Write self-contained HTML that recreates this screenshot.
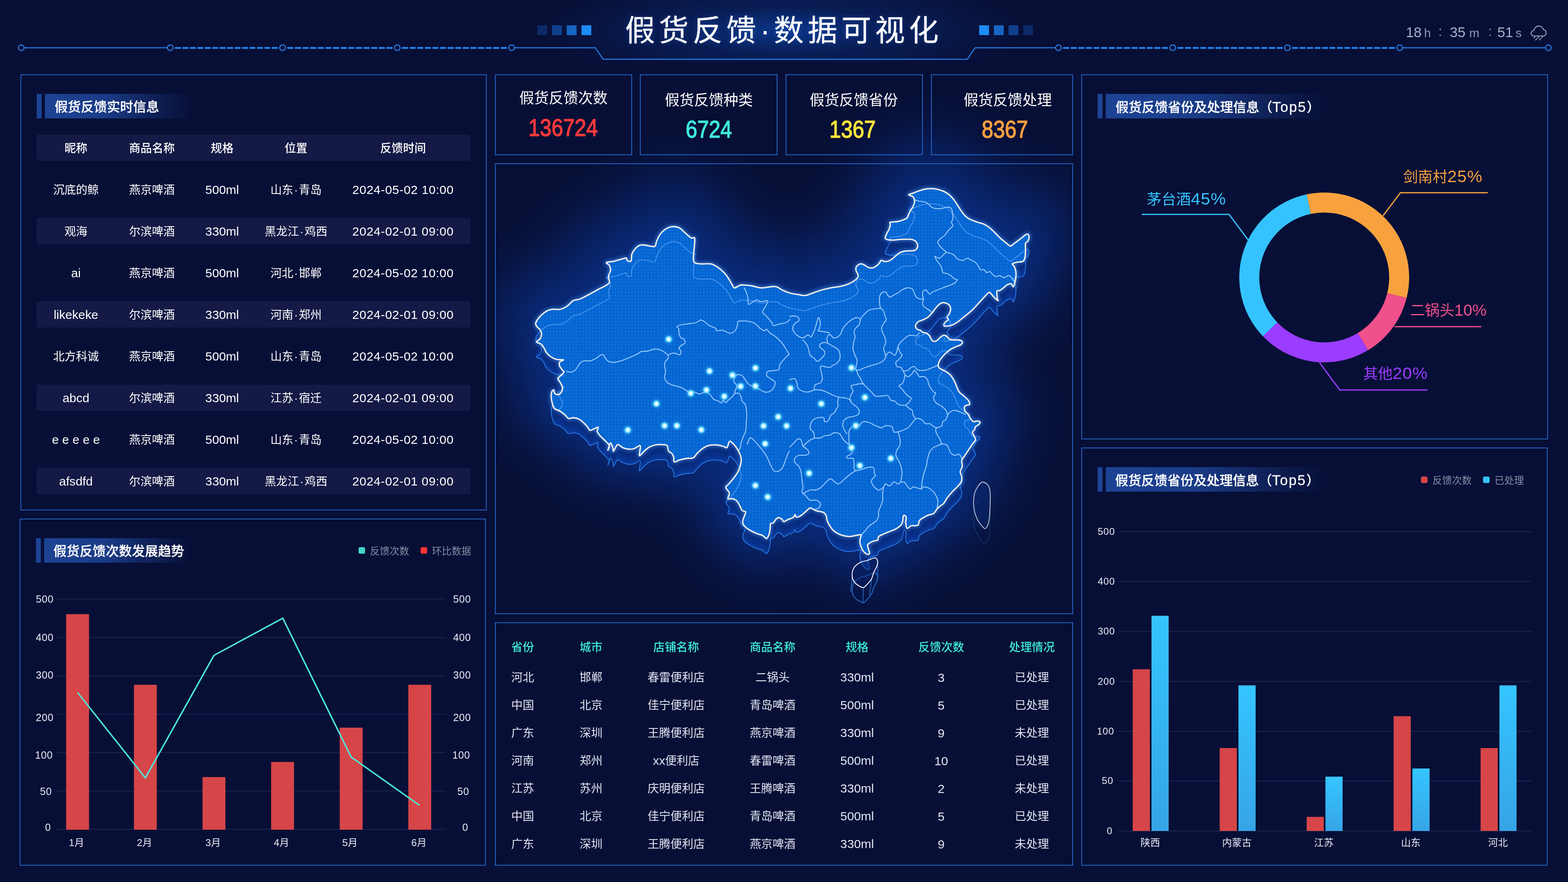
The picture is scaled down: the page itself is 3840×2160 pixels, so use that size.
<!DOCTYPE html>
<html lang="zh-CN"><head><meta charset="utf-8"><title>假货反馈·数据可视化</title>
<style>
html,body{margin:0;padding:0;background:#070f36;}
body{width:3840px;height:2160px;position:relative;overflow:hidden;font-family:"Liberation Sans","Noto Sans CJK SC",sans-serif;}
.p{position:absolute;box-sizing:border-box;border:2px solid #2463c4;}
.r{position:absolute;}
.t{position:absolute;white-space:nowrap;line-height:1;}
.tb-a{position:absolute;width:12px;height:60px;background:#1d4394;}
.tb-m{position:absolute;height:60px;background:linear-gradient(90deg,#1d4394 0%,#1a3c88 40%,rgba(20,45,110,.55) 75%,rgba(7,15,54,0) 100%);}
.row{position:absolute;left:90px;width:1062px;height:64px;background:#141a45;border-radius:4px;}
svg{position:absolute;left:0;top:0;overflow:visible;}
</style></head><body>

<div class="r" style="left:1330px;top:-60px;width:1180px;height:270px;background:radial-gradient(ellipse 50% 50% at 50% 50%,rgba(14,72,175,.68) 0%,rgba(12,52,135,.4) 42%,rgba(7,15,54,0) 100%);"></div>
<svg width="3840" height="200" viewBox="0 0 3840 200" fill="none"><path d="M60 117H409" stroke="#2b7de6" stroke-width="2.5"/><path d="M428.5 117.3H680.3" stroke="#2389f2" stroke-width="4.2" stroke-dasharray="14.55 3.7"/><path d="M703.5 117.3H961.3" stroke="#2389f2" stroke-width="4.2" stroke-dasharray="14.98 3.7"/><path d="M984.5 117.3H1241.3" stroke="#2389f2" stroke-width="4.2" stroke-dasharray="14.91 3.7"/><path d="M2603.5 117.3H2860.3" stroke="#2389f2" stroke-width="4.2" stroke-dasharray="14.91 3.7"/><path d="M2883.5 117.3H3141.3" stroke="#2389f2" stroke-width="4.2" stroke-dasharray="14.98 3.7"/><path d="M3164.5 117.3H3416.3" stroke="#2389f2" stroke-width="4.2" stroke-dasharray="14.55 3.7"/><path d="M1261 117H1458L1477 145H2369L2388 117H2584" stroke="#2b7de6" stroke-width="2.5"/><path d="M3436 117H3784" stroke="#2b7de6" stroke-width="2.5"/><circle cx="52" cy="117" r="7" stroke="#2b7de6" stroke-width="2.5"/><circle cx="417" cy="117" r="7" stroke="#2b7de6" stroke-width="2.5"/><circle cx="692" cy="117" r="7" stroke="#2b7de6" stroke-width="2.5"/><circle cx="973" cy="117" r="7" stroke="#2b7de6" stroke-width="2.5"/><circle cx="1253" cy="117" r="7" stroke="#2b7de6" stroke-width="2.5"/><circle cx="2592" cy="117" r="7" stroke="#2b7de6" stroke-width="2.5"/><circle cx="2872" cy="117" r="7" stroke="#2b7de6" stroke-width="2.5"/><circle cx="3153" cy="117" r="7" stroke="#2b7de6" stroke-width="2.5"/><circle cx="3428" cy="117" r="7" stroke="#2b7de6" stroke-width="2.5"/><circle cx="3792" cy="117" r="7" stroke="#2b7de6" stroke-width="2.5"/><rect x="1316" y="62" width="24" height="24" fill="#0c2a66"/><rect x="1352" y="62" width="24" height="24" fill="#10408c"/><rect x="1388" y="62" width="24" height="24" fill="#1666c2"/><rect x="1424" y="62" width="24" height="24" fill="#1e8cf5"/><rect x="2398" y="62" width="24" height="24" fill="#1e8cf5"/><rect x="2434" y="62" width="24" height="24" fill="#1666c2"/><rect x="2470" y="62" width="24" height="24" fill="#10408c"/><rect x="2506" y="62" width="24" height="24" fill="#0c2a66"/><g stroke="#a3abc4" stroke-width="2.1" stroke-linecap="round" stroke-linejoin="round"><path d="M3756 88C3752 88 3749.600 84.800 3749.600 81.500C3749.600 77.600 3752.600 74.600 3756.600 74.500C3757.600 68.200 3762.500 63.600 3768.500 63.600C3774 63.600 3778.500 67.200 3780 72.600C3784 73 3786.600 76.500 3786.600 80.400C3786.600 84.600 3783.500 88 3780 88Z"/><path d="M3759.200 89.800l-2.600 3.400M3768.400 89.800l-2.600 3.400M3777.600 89.800l-2.600 3.400M3763.400 94.600l-2.600 3.400M3772.600 94.600l-2.600 3.400"/></g></svg>
<div class="t" style="left:1531px;top:73.5px;font-size:73px;color:#fff;font-weight:400;transform:translate(0,-50%);letter-spacing:9.6px;text-shadow:0 0 14px rgba(40,110,230,.35);-webkit-text-stroke:0.4px #fff;">假货反馈·数据可视化</div>
<div class="t" style="left:3443px;top:62.00px;font-size:34.5px;color:#a9b1c9">18</div>
<div class="t" style="left:3487.5px;top:65.81px;font-size:30px;color:#9098b4">h</div>
<div class="t" style="left:3522.5px;top:60.37px;font-size:33px;color:#9098b4">:</div>
<div class="t" style="left:3550.5px;top:62.00px;font-size:34.5px;color:#a9b1c9">35</div>
<div class="t" style="left:3598px;top:65.81px;font-size:30px;color:#9098b4">m</div>
<div class="t" style="left:3644.8px;top:60.37px;font-size:33px;color:#9098b4">:</div>
<div class="t" style="left:3667px;top:62.00px;font-size:34.5px;color:#a9b1c9">51</div>
<div class="t" style="left:3711.5px;top:65.81px;font-size:30px;color:#9098b4">s</div>
<svg style="left:1212px;top:150px;overflow:hidden" width="1416" height="1354" viewBox="1212 150 1416 1354" fill="none"><defs>
<filter color-interpolation-filters="sRGB" id="gl1" filterUnits="userSpaceOnUse" x="812" y="-250" width="2216" height="2154"><feGaussianBlur stdDeviation="56"/></filter>
<filter color-interpolation-filters="sRGB" id="gl2" x="-20%" y="-20%" width="140%" height="140%"><feGaussianBlur stdDeviation="5"/></filter>
<filter color-interpolation-filters="sRGB" id="gl3" x="-50%" y="-50%" width="200%" height="200%"><feGaussianBlur stdDeviation="2.5"/></filter>
<filter color-interpolation-filters="sRGB" id="gl4" x="-20%" y="-20%" width="140%" height="140%"><feGaussianBlur stdDeviation="18"/></filter>
<pattern id="dots" width="8" height="8" patternUnits="userSpaceOnUse"><rect width="8" height="8" fill="#0565d1"/><rect x="2" y="2" width="3" height="4" rx="1" fill="#1474e0"/></pattern>
<linearGradient id="side" gradientUnits="userSpaceOnUse" x1="0" y1="450" x2="0" y2="1500"><stop offset="0" stop-color="#0a3592"/><stop offset="1" stop-color="#072a7c"/></linearGradient>
<path id="ol" d="M1322.5 775.0C1327.2 770.0 1334.6 764.2 1340.0 761.2C1345.4 758.3 1349.6 758.1 1355.0 757.5C1360.4 756.9 1366.7 759.0 1372.5 757.5C1378.3 756.0 1384.8 752.3 1390.0 748.8C1395.2 745.2 1398.8 739.0 1403.8 736.2C1408.8 733.5 1414.0 734.8 1420.0 732.5C1426.0 730.2 1432.5 726.5 1440.0 722.5C1447.5 718.5 1456.5 713.5 1465.0 708.8C1473.5 704.0 1487.1 699.0 1491.2 693.8C1495.4 688.5 1489.4 682.7 1490.0 677.5C1490.6 672.3 1494.6 667.1 1495.0 662.5C1495.4 657.9 1494.2 653.2 1492.5 650.0C1490.8 646.8 1483.3 644.7 1485.0 643.0C1486.7 641.3 1495.8 641.5 1502.5 640.0C1509.2 638.5 1519.8 635.1 1525.0 633.8C1530.2 632.4 1531.9 631.2 1533.8 632.0C1535.6 632.8 1534.8 637.4 1536.2 638.8C1537.7 640.1 1540.8 640.2 1542.5 640.0C1544.2 639.8 1545.4 640.4 1546.2 637.5C1547.1 634.6 1546.0 627.1 1547.5 622.5C1549.0 617.9 1552.1 613.5 1555.0 610.0C1557.9 606.5 1561.2 602.9 1565.0 601.2C1568.8 599.6 1571.2 599.6 1577.5 600.0C1583.8 600.4 1597.5 605.0 1602.5 603.8C1607.5 602.5 1605.4 597.1 1607.5 592.5C1609.6 587.9 1611.9 581.0 1615.0 576.2C1618.1 571.5 1622.1 567.1 1626.2 563.8C1630.4 560.4 1635.6 557.7 1640.0 556.2C1644.4 554.8 1648.3 554.6 1652.5 555.0C1656.7 555.4 1660.8 556.2 1665.0 558.8C1669.2 561.2 1672.9 566.0 1677.5 570.0C1682.1 574.0 1688.5 580.3 1692.5 582.5C1696.5 584.7 1699.9 579.7 1701.2 583.0C1702.6 586.3 1701.0 593.8 1700.5 602.5C1700.0 611.2 1697.7 628.1 1698.0 635.0C1698.3 641.9 1699.7 641.9 1702.5 643.8C1705.3 645.6 1708.8 645.8 1715.0 646.2C1721.2 646.7 1733.8 645.4 1740.0 646.2C1746.2 647.1 1748.3 649.0 1752.5 651.2C1756.7 653.5 1760.8 656.5 1765.0 660.0C1769.2 663.5 1773.8 667.9 1777.5 672.5C1781.2 677.1 1784.6 682.7 1787.5 687.5C1790.4 692.3 1792.9 698.3 1795.0 701.2C1797.1 704.2 1796.7 705.5 1800.0 705.0C1803.3 704.5 1808.3 698.8 1815.0 698.0C1821.7 697.2 1831.7 698.8 1840.0 700.0C1848.3 701.2 1856.7 704.7 1865.0 705.0C1873.3 705.3 1883.8 702.4 1890.0 702.0C1896.2 701.6 1898.3 701.2 1902.5 702.5C1906.7 703.8 1909.8 707.5 1915.0 710.0C1920.2 712.5 1927.5 715.6 1934.0 717.5C1940.5 719.4 1947.8 720.2 1954.0 721.2C1960.2 722.3 1966.5 724.0 1971.5 723.8C1976.5 723.5 1977.8 722.1 1984.0 720.0C1990.2 717.9 2000.7 713.8 2009.0 711.2C2017.3 708.8 2025.7 706.7 2034.0 705.0C2042.3 703.3 2051.5 702.9 2059.0 701.2C2066.5 699.6 2073.2 697.5 2079.0 695.0C2084.8 692.5 2090.2 689.2 2094.0 686.2C2097.8 683.3 2100.5 680.2 2101.5 677.5C2102.5 674.8 2101.1 672.5 2100.2 670.0C2099.4 667.5 2097.1 665.0 2096.5 662.5C2095.9 660.0 2095.7 657.3 2096.5 655.0C2097.3 652.7 2099.4 650.2 2101.5 648.8C2103.6 647.3 2106.5 646.2 2109.0 646.2C2111.5 646.2 2113.6 647.3 2116.5 648.8C2119.4 650.2 2123.2 653.8 2126.5 655.0C2129.8 656.2 2133.2 656.9 2136.5 656.2C2139.8 655.6 2143.6 653.3 2146.5 651.2C2149.4 649.2 2152.1 646.0 2154.0 643.8C2155.9 641.5 2156.1 638.1 2157.8 637.5C2159.4 636.9 2161.3 639.6 2164.0 640.0C2166.7 640.4 2170.7 640.8 2174.0 640.0C2177.3 639.2 2180.7 637.3 2184.0 635.0C2187.3 632.7 2190.7 629.0 2194.0 626.2C2197.3 623.5 2200.2 620.6 2204.0 618.8C2207.8 616.9 2211.5 615.8 2216.5 615.0C2221.5 614.2 2229.8 614.7 2234.0 614.2C2238.2 613.8 2239.4 613.8 2241.5 612.5C2243.6 611.2 2245.7 608.8 2246.5 606.2C2247.3 603.8 2247.3 600.2 2246.5 597.5C2245.7 594.8 2244.0 591.9 2241.5 590.0C2239.0 588.1 2236.9 586.9 2231.5 586.2C2226.1 585.6 2216.9 586.0 2209.0 586.2C2201.1 586.5 2190.2 588.0 2184.0 588.0C2177.8 588.0 2174.2 587.2 2171.5 586.2C2168.8 585.3 2167.8 584.8 2167.8 582.5C2167.8 580.2 2169.8 576.2 2171.5 572.5C2173.2 568.8 2176.3 563.8 2177.8 560.0C2179.2 556.2 2180.0 552.5 2180.2 550.0C2180.5 547.5 2178.4 546.0 2179.0 545.0C2179.6 544.0 2180.7 544.2 2184.0 543.8C2187.3 543.3 2194.4 543.3 2199.0 542.5C2203.6 541.7 2207.8 540.2 2211.5 538.8C2215.2 537.3 2219.2 536.0 2221.5 533.8C2223.8 531.5 2223.8 528.1 2225.2 525.0C2226.7 521.9 2228.6 517.9 2230.2 515.0C2231.9 512.1 2233.8 510.4 2235.2 507.5C2236.7 504.6 2238.3 500.6 2239.0 497.5C2239.7 494.4 2240.1 491.5 2239.5 488.8C2238.9 486.0 2237.6 483.2 2235.2 481.2C2232.9 479.3 2225.5 478.2 2225.2 477.0C2225.0 475.8 2230.0 475.2 2234.0 473.8C2238.0 472.2 2243.6 469.8 2249.0 468.0C2254.4 466.2 2260.7 464.0 2266.5 463.0C2272.3 462.0 2278.6 461.8 2284.0 462.0C2289.4 462.2 2294.0 463.2 2299.0 464.5C2304.0 465.8 2309.4 467.6 2314.0 470.0C2318.6 472.4 2322.8 475.4 2326.5 478.8C2330.2 482.1 2333.2 485.6 2336.5 490.0C2339.8 494.4 2343.2 500.0 2346.5 505.0C2349.8 510.0 2353.2 515.6 2356.5 520.0C2359.8 524.4 2362.8 528.1 2366.5 531.2C2370.2 534.4 2374.0 536.5 2379.0 538.8C2384.0 541.0 2391.5 543.3 2396.5 545.0C2401.5 546.7 2404.8 546.9 2409.0 548.8C2413.2 550.6 2417.3 553.1 2421.5 556.2C2425.7 559.4 2429.4 563.1 2434.0 567.5C2438.6 571.9 2444.0 577.9 2449.0 582.5C2454.0 587.1 2459.8 591.7 2464.0 595.0C2468.2 598.3 2470.7 602.3 2474.0 602.5C2477.3 602.7 2479.8 599.2 2484.0 596.2C2488.2 593.3 2494.4 588.5 2499.0 585.0C2503.6 581.5 2508.4 576.9 2511.5 575.0C2514.6 573.1 2516.3 572.9 2517.8 573.8C2519.2 574.6 2520.2 577.3 2520.2 580.0C2520.2 582.7 2519.2 587.3 2517.8 590.0C2516.3 592.7 2512.5 592.5 2511.5 596.2C2510.5 600.0 2511.7 606.9 2511.5 612.5C2511.3 618.1 2511.3 625.4 2510.2 630.0C2509.2 634.6 2508.4 638.0 2505.2 640.0C2502.1 642.0 2495.9 641.0 2491.5 642.0C2487.1 643.0 2480.2 644.5 2479.0 646.2C2477.8 648.0 2482.5 649.4 2484.0 652.5C2485.5 655.6 2487.1 660.4 2487.8 665.0C2488.4 669.6 2488.2 675.4 2487.8 680.0C2487.3 684.6 2486.3 688.8 2485.2 692.5C2484.2 696.2 2483.0 702.1 2481.5 702.5C2480.0 702.9 2479.0 695.8 2476.5 695.0C2474.0 694.2 2469.4 696.0 2466.5 697.5C2463.6 699.0 2461.9 701.5 2459.0 703.8C2456.1 706.0 2451.9 709.8 2449.0 711.2C2446.1 712.7 2442.8 710.6 2441.5 712.5C2440.2 714.4 2441.3 719.2 2441.5 722.5C2441.7 725.8 2442.3 730.2 2442.8 732.5C2443.2 734.8 2445.5 737.1 2444.0 736.2C2442.5 735.4 2436.9 730.4 2434.0 727.5C2431.1 724.6 2428.6 720.6 2426.5 718.8C2424.4 716.9 2424.4 714.6 2421.5 716.2C2418.6 717.9 2413.2 724.4 2409.0 728.8C2404.8 733.1 2400.7 737.9 2396.5 742.5C2392.3 747.1 2388.2 752.1 2384.0 756.2C2379.8 760.4 2375.7 764.0 2371.5 767.5C2367.3 771.0 2363.2 774.2 2359.0 777.5C2354.8 780.8 2350.7 784.6 2346.5 787.5C2342.3 790.4 2337.8 793.2 2334.0 795.0C2330.2 796.8 2327.3 797.4 2324.0 798.0C2320.7 798.6 2316.1 799.2 2314.0 798.8C2311.9 798.2 2311.1 796.9 2311.5 795.0C2311.9 793.1 2314.6 789.6 2316.5 787.5C2318.4 785.4 2322.3 784.4 2322.8 782.5C2323.2 780.6 2318.8 778.3 2319.0 776.2C2319.2 774.2 2322.5 772.7 2324.0 770.0C2325.5 767.3 2327.3 763.3 2327.8 760.0C2328.2 756.7 2327.8 752.7 2326.5 750.0C2325.2 747.3 2323.2 745.2 2320.2 743.8C2317.3 742.3 2312.5 740.8 2309.0 741.2C2305.5 741.7 2302.3 743.5 2299.0 746.2C2295.7 749.0 2291.9 754.0 2289.0 757.5C2286.1 761.0 2284.4 764.2 2281.5 767.5C2278.6 770.8 2275.2 774.8 2271.5 777.5C2267.8 780.2 2262.8 782.1 2259.0 783.8C2255.2 785.4 2251.7 785.6 2249.0 787.5C2246.3 789.4 2243.8 792.5 2242.8 795.0C2241.7 797.5 2241.9 800.4 2242.8 802.5C2243.6 804.6 2245.9 806.5 2247.8 807.5C2249.6 808.5 2252.1 807.7 2254.0 808.8C2255.9 809.8 2256.5 812.5 2259.0 813.8C2261.5 815.0 2266.1 814.8 2269.0 816.2C2271.9 817.7 2274.4 819.8 2276.5 822.5C2278.6 825.2 2279.4 830.2 2281.5 832.5C2283.6 834.8 2286.5 836.2 2289.0 836.2C2291.5 836.2 2294.0 834.4 2296.5 832.5C2299.0 830.6 2301.5 826.9 2304.0 825.0C2306.5 823.1 2309.0 821.5 2311.5 821.2C2314.0 821.0 2316.9 822.3 2319.0 823.8C2321.1 825.2 2321.5 828.5 2324.0 830.0C2326.5 831.5 2330.2 832.1 2334.0 832.5C2337.8 832.9 2343.0 832.1 2346.5 832.5C2350.0 832.9 2353.6 833.8 2355.2 835.0C2356.9 836.2 2357.1 838.3 2356.5 840.0C2355.9 841.7 2354.0 843.5 2351.5 845.0C2349.0 846.5 2345.2 847.1 2341.5 848.8C2337.8 850.4 2332.8 852.7 2329.0 855.0C2325.2 857.3 2322.3 859.6 2319.0 862.5C2315.7 865.4 2311.9 869.2 2309.0 872.5C2306.1 875.8 2303.4 879.2 2301.5 882.5C2299.6 885.8 2298.2 889.6 2297.8 892.5C2297.3 895.4 2297.5 897.9 2299.0 900.0C2300.5 902.1 2303.6 903.3 2306.5 905.0C2309.4 906.7 2313.2 907.9 2316.5 910.0C2319.8 912.1 2323.6 914.6 2326.5 917.5C2329.4 920.4 2331.7 923.8 2334.0 927.5C2336.3 931.2 2338.6 936.2 2340.2 940.0C2341.9 943.8 2342.5 946.7 2344.0 950.0C2345.5 953.3 2346.5 956.9 2349.0 960.0C2351.5 963.1 2355.7 965.8 2359.0 968.8C2362.3 971.7 2366.5 974.8 2369.0 977.5C2371.5 980.2 2373.2 982.7 2374.0 985.0C2374.8 987.3 2375.2 990.0 2374.0 991.2C2372.8 992.5 2368.6 991.5 2366.5 992.5C2364.4 993.5 2361.9 995.0 2361.5 997.5C2361.1 1000.0 2362.3 1004.6 2364.0 1007.5C2365.7 1010.4 2369.4 1012.1 2371.5 1015.0C2373.6 1017.9 2374.4 1022.1 2376.5 1025.0C2378.6 1027.9 2381.1 1031.5 2384.0 1032.5C2386.9 1033.5 2391.3 1031.0 2394.0 1031.2C2396.7 1031.5 2399.8 1032.3 2400.2 1033.8C2400.7 1035.2 2398.4 1038.1 2396.5 1040.0C2394.6 1041.9 2390.7 1042.9 2389.0 1045.0C2387.3 1047.1 2387.8 1050.2 2386.5 1052.5C2385.2 1054.8 2381.5 1055.8 2381.5 1058.8C2381.5 1061.7 2385.2 1066.9 2386.5 1070.0C2387.8 1073.1 2389.8 1074.6 2389.0 1077.5C2388.2 1080.4 2384.4 1083.3 2381.5 1087.5C2378.6 1091.7 2374.8 1097.5 2371.5 1102.5C2368.2 1107.5 2364.2 1113.3 2361.5 1117.5C2358.8 1121.7 2356.1 1123.3 2355.2 1127.5C2354.4 1131.7 2357.1 1137.9 2356.5 1142.5C2355.9 1147.1 2351.7 1150.8 2351.5 1155.0C2351.3 1159.2 2354.8 1163.3 2355.2 1167.5C2355.7 1171.7 2355.9 1175.8 2354.0 1180.0C2352.1 1184.2 2347.8 1188.3 2344.0 1192.5C2340.2 1196.7 2335.7 1200.4 2331.5 1205.0C2327.3 1209.6 2322.3 1215.4 2319.0 1220.0C2315.7 1224.6 2314.4 1229.2 2311.5 1232.5C2308.6 1235.8 2304.4 1237.5 2301.5 1240.0C2298.6 1242.5 2296.5 1244.6 2294.0 1247.5C2291.5 1250.4 2289.8 1255.2 2286.5 1257.5C2283.2 1259.8 2278.2 1259.6 2274.0 1261.2C2269.8 1262.9 2265.2 1265.2 2261.5 1267.5C2257.8 1269.8 2253.6 1272.1 2251.5 1275.0C2249.4 1277.9 2250.7 1282.9 2249.0 1285.0C2247.3 1287.1 2244.4 1287.1 2241.5 1287.5C2238.6 1287.9 2234.8 1286.5 2231.5 1287.5C2228.2 1288.5 2223.7 1295.0 2221.5 1293.8C2219.3 1292.5 2218.6 1284.4 2218.2 1280.0C2217.9 1275.6 2219.9 1270.4 2219.5 1267.5C2219.1 1264.6 2217.0 1263.1 2215.8 1262.5C2214.5 1261.9 2212.8 1261.7 2212.0 1263.8C2211.2 1265.8 2211.6 1271.5 2210.8 1275.0C2209.9 1278.5 2209.7 1281.7 2207.0 1285.0C2204.3 1288.3 2199.1 1292.3 2194.5 1295.0C2189.9 1297.7 2184.5 1299.2 2179.5 1301.2C2174.5 1303.3 2169.1 1305.4 2164.5 1307.5C2159.9 1309.6 2154.5 1311.2 2152.0 1313.8C2149.5 1316.2 2151.6 1320.6 2149.5 1322.5C2147.4 1324.4 2142.8 1323.8 2139.5 1325.0C2136.2 1326.2 2132.0 1328.3 2129.5 1330.0C2127.0 1331.7 2124.9 1332.5 2124.5 1335.0C2124.1 1337.5 2126.2 1341.7 2127.0 1345.0C2127.8 1348.3 2129.9 1352.9 2129.5 1355.0C2129.1 1357.1 2127.0 1358.3 2124.5 1357.5C2122.0 1356.7 2117.2 1353.3 2114.5 1350.0C2111.8 1346.7 2109.7 1341.7 2108.2 1337.5C2106.8 1333.3 2105.8 1329.6 2105.8 1325.0C2105.8 1320.4 2109.7 1312.3 2108.2 1310.0C2106.8 1307.7 2101.8 1310.6 2097.0 1311.2C2092.2 1311.9 2085.8 1314.0 2079.5 1313.8C2073.2 1313.5 2065.8 1312.3 2059.5 1310.0C2053.2 1307.7 2046.6 1303.8 2042.0 1300.0C2037.4 1296.2 2034.7 1291.7 2032.0 1287.5C2029.3 1283.3 2027.2 1279.2 2025.8 1275.0C2024.3 1270.8 2024.7 1265.8 2023.2 1262.5C2021.8 1259.2 2019.7 1256.7 2017.0 1255.0C2014.3 1253.3 2010.3 1253.3 2007.0 1252.5C2003.7 1251.7 2000.1 1251.2 1997.0 1250.0C1993.9 1248.8 1990.8 1245.8 1988.2 1245.0C1985.8 1244.2 1984.7 1243.5 1982.0 1245.0C1979.3 1246.5 1975.8 1250.6 1972.0 1253.8C1968.2 1256.9 1963.2 1261.7 1959.5 1263.8C1955.8 1265.8 1951.6 1266.9 1949.5 1266.2C1947.4 1265.6 1948.2 1259.8 1947.0 1260.0C1945.8 1260.2 1944.9 1265.4 1942.0 1267.5C1939.1 1269.6 1933.2 1270.8 1929.5 1272.5C1925.8 1274.2 1921.8 1277.5 1919.5 1277.5C1917.2 1277.5 1917.8 1274.2 1915.8 1272.5C1913.7 1270.8 1909.7 1267.5 1907.0 1267.5C1904.3 1267.5 1901.6 1270.4 1899.5 1272.5C1897.4 1274.6 1896.6 1278.3 1894.5 1280.0C1892.4 1281.7 1888.4 1280.4 1887.0 1282.5C1885.6 1284.6 1886.8 1288.3 1886.2 1292.5C1885.7 1296.7 1885.2 1303.1 1883.8 1307.5C1882.3 1311.9 1880.2 1318.1 1877.5 1318.8C1874.8 1319.4 1871.7 1313.3 1867.5 1311.2C1863.3 1309.2 1857.9 1308.5 1852.5 1306.2C1847.1 1304.0 1840.0 1300.6 1835.0 1297.5C1830.0 1294.4 1825.2 1290.8 1822.5 1287.5C1819.8 1284.2 1818.8 1281.2 1818.8 1277.5C1818.8 1273.8 1821.2 1269.0 1822.5 1265.0C1823.8 1261.0 1827.1 1256.2 1826.2 1253.8C1825.4 1251.2 1820.2 1253.1 1817.5 1250.0C1814.8 1246.9 1812.5 1239.2 1810.0 1235.0C1807.5 1230.8 1805.4 1227.3 1802.5 1225.0C1799.6 1222.7 1795.8 1221.9 1792.5 1221.2C1789.2 1220.6 1783.5 1223.5 1782.5 1221.2C1781.5 1219.0 1787.1 1212.1 1786.2 1207.5C1785.4 1202.9 1777.7 1197.5 1777.5 1193.8C1777.3 1190.0 1781.7 1189.0 1785.0 1185.0C1788.3 1181.0 1793.8 1175.0 1797.5 1170.0C1801.2 1165.0 1804.8 1160.4 1807.5 1155.0C1810.2 1149.6 1812.5 1142.9 1813.8 1137.5C1815.0 1132.1 1815.6 1127.5 1815.0 1122.5C1814.4 1117.5 1812.1 1112.1 1810.0 1107.5C1807.9 1102.9 1805.4 1099.0 1802.5 1095.0C1799.6 1091.0 1795.2 1086.0 1792.5 1083.8C1789.8 1081.5 1788.3 1079.2 1786.2 1081.2C1784.2 1083.3 1782.7 1094.4 1780.0 1096.2C1777.3 1098.1 1774.6 1093.6 1770.0 1092.5C1765.4 1091.4 1758.3 1089.7 1752.5 1089.5C1746.7 1089.3 1740.4 1089.7 1735.0 1091.2C1729.6 1092.8 1724.6 1095.6 1720.0 1098.8C1715.4 1101.9 1711.2 1106.2 1707.5 1110.0C1703.8 1113.8 1701.7 1119.2 1697.5 1121.2C1693.3 1123.3 1687.9 1121.7 1682.5 1122.5C1677.1 1123.3 1670.2 1124.8 1665.0 1126.2C1659.8 1127.7 1653.8 1132.3 1651.2 1131.2C1648.8 1130.2 1651.0 1123.5 1650.0 1120.0C1649.0 1116.5 1647.1 1112.5 1645.0 1110.0C1642.9 1107.5 1639.4 1108.1 1637.5 1105.0C1635.6 1101.9 1636.2 1094.0 1633.8 1091.2C1631.2 1088.5 1627.3 1089.0 1622.5 1088.8C1617.7 1088.5 1610.4 1088.5 1605.0 1089.5C1599.6 1090.5 1594.6 1092.4 1590.0 1095.0C1585.4 1097.6 1581.5 1101.5 1577.5 1105.0C1573.5 1108.5 1568.0 1116.2 1566.2 1116.2C1564.5 1116.2 1566.8 1109.2 1567.0 1105.0C1567.2 1100.8 1569.9 1092.3 1567.5 1091.2C1565.1 1090.2 1557.1 1097.3 1552.5 1098.8C1547.9 1100.2 1544.6 1100.4 1540.0 1100.0C1535.4 1099.6 1529.6 1098.1 1525.0 1096.2C1520.4 1094.4 1516.2 1087.3 1512.5 1088.8C1508.8 1090.2 1504.4 1103.5 1502.5 1105.0C1500.6 1106.5 1502.5 1100.8 1501.2 1097.5C1500.0 1094.2 1497.1 1084.2 1495.0 1085.0C1492.9 1085.8 1489.2 1101.5 1488.8 1102.5C1488.3 1103.5 1492.7 1094.2 1492.5 1091.2C1492.3 1088.3 1490.0 1087.7 1487.5 1085.0C1485.0 1082.3 1480.6 1078.1 1477.5 1075.0C1474.4 1071.9 1471.2 1069.4 1468.8 1066.2C1466.2 1063.1 1463.1 1059.6 1462.5 1056.2C1461.9 1052.9 1466.2 1047.3 1465.0 1046.2C1463.8 1045.2 1458.3 1048.8 1455.0 1050.0C1451.7 1051.2 1447.9 1054.8 1445.0 1053.8C1442.1 1052.7 1440.4 1047.1 1437.5 1043.8C1434.6 1040.4 1430.8 1036.7 1427.5 1033.8C1424.2 1030.8 1421.2 1028.0 1417.5 1026.2C1413.8 1024.5 1409.2 1023.2 1405.0 1023.0C1400.8 1022.8 1395.8 1025.9 1392.5 1025.0C1389.2 1024.1 1388.3 1020.4 1385.0 1017.5C1381.7 1014.6 1377.1 1010.4 1372.5 1007.5C1367.9 1004.6 1360.8 1003.3 1357.5 1000.0C1354.2 996.7 1353.8 992.1 1352.5 987.5C1351.2 982.9 1350.2 977.1 1350.0 972.5C1349.8 967.9 1350.2 962.9 1351.2 960.0C1352.3 957.1 1355.0 954.4 1356.2 955.0C1357.5 955.6 1356.9 961.9 1358.8 963.8C1360.6 965.6 1364.8 966.9 1367.5 966.2C1370.2 965.6 1373.3 962.7 1375.0 960.0C1376.7 957.3 1377.9 953.8 1377.5 950.0C1377.1 946.2 1374.4 941.2 1372.5 937.5C1370.6 933.8 1366.2 930.4 1366.2 927.5C1366.2 924.6 1370.0 922.7 1372.5 920.0C1375.0 917.3 1380.6 913.8 1381.2 911.2C1381.9 908.8 1378.1 907.7 1376.2 905.0C1374.4 902.3 1370.8 898.1 1370.0 895.0C1369.2 891.9 1369.6 888.5 1371.2 886.2C1372.9 884.0 1381.5 882.3 1380.0 881.2C1378.5 880.2 1367.9 881.5 1362.5 880.0C1357.1 878.5 1351.7 875.4 1347.5 872.5C1343.3 869.6 1340.0 865.8 1337.5 862.5C1335.0 859.2 1334.6 855.8 1332.5 852.5C1330.4 849.2 1328.1 845.0 1325.0 842.5C1321.9 840.0 1314.2 839.6 1313.8 837.5C1313.3 835.4 1320.4 833.3 1322.5 830.0C1324.6 826.7 1326.2 821.2 1326.2 817.5C1326.2 813.8 1324.4 810.4 1322.5 807.5C1320.6 804.6 1316.8 802.7 1315.0 800.0C1313.2 797.3 1310.8 795.4 1312.0 791.2C1313.2 787.1 1317.8 780.0 1322.5 775.0Z"/>
<clipPath id="olc"><use href="#ol"/></clipPath>
</defs><g filter="url(#gl1)"><rect x="812" y="-250" width="2216" height="2154" fill="#070f36"/><use href="#ol" transform="translate(0 -22)" fill="#082264" stroke="#082264" stroke-width="220" stroke-linejoin="round"/><use href="#ol" transform="translate(0 4)" fill="#0a2e84" stroke="#0a2e84" stroke-width="34" stroke-linejoin="round"/></g><use href="#ol" transform="translate(0 37)" fill="#0b3a9c" stroke="#0b3a9c" stroke-width="1.5"/><use href="#ol" transform="translate(0 35)" fill="#0b3899" stroke="#0b3899" stroke-width="1.5"/><use href="#ol" transform="translate(0 33)" fill="#0a3796" stroke="#0a3796" stroke-width="1.5"/><use href="#ol" transform="translate(0 31)" fill="#0a3693" stroke="#0a3693" stroke-width="1.5"/><use href="#ol" transform="translate(0 29)" fill="#0a3490" stroke="#0a3490" stroke-width="1.5"/><use href="#ol" transform="translate(0 27)" fill="#0a338d" stroke="#0a338d" stroke-width="1.5"/><use href="#ol" transform="translate(0 25)" fill="#0a328a" stroke="#0a328a" stroke-width="1.5"/><use href="#ol" transform="translate(0 23)" fill="#093088" stroke="#093088" stroke-width="1.5"/><use href="#ol" transform="translate(0 21)" fill="#092f85" stroke="#092f85" stroke-width="1.5"/><use href="#ol" transform="translate(0 19)" fill="#092e83" stroke="#092e83" stroke-width="1.5"/><use href="#ol" transform="translate(0 17)" fill="#092d81" stroke="#092d81" stroke-width="1.5"/><use href="#ol" transform="translate(0 15)" fill="#092c7f" stroke="#092c7f" stroke-width="1.5"/><use href="#ol" transform="translate(0 13)" fill="#092b7d" stroke="#092b7d" stroke-width="1.5"/><use href="#ol" transform="translate(0 11)" fill="#082b7b" stroke="#082b7b" stroke-width="1.5"/><use href="#ol" transform="translate(0 9)" fill="#082a7a" stroke="#082a7a" stroke-width="1.5"/><use href="#ol" transform="translate(0 7)" fill="#082979" stroke="#082979" stroke-width="1.5"/><use href="#ol" transform="translate(0 5)" fill="#082978" stroke="#082978" stroke-width="1.5"/><use href="#ol" transform="translate(0 3)" fill="#082877" stroke="#082877" stroke-width="1.5"/><use href="#ol" transform="translate(0 1)" fill="#082876" stroke="#082876" stroke-width="1.5"/><use href="#ol" transform="translate(0 37)" stroke="#2e7fe8" stroke-width="2" opacity="0.9"/><use href="#ol" stroke="#4b9cff" stroke-width="7" filter="url(#gl2)" opacity="0.7"/><use href="#ol" fill="url(#dots)"/><g clip-path="url(#olc)"><use href="#ol" transform="translate(0 37)" stroke="#62a8f6" stroke-width="2.5" opacity="0.6"/><path d="M1822.5 705.0C1823.3 706.7 1826.0 711.2 1827.5 715.0C1829.0 718.8 1830.3 722.5 1831.2 727.5C1832.2 732.5 1831.1 742.9 1833.0 745.0C1834.9 747.1 1839.2 741.7 1842.5 740.0C1845.8 738.3 1848.8 735.2 1852.5 735.0C1856.2 734.8 1860.4 738.5 1865.0 738.8C1869.6 739.0 1878.3 734.4 1880.0 736.2C1881.7 738.1 1877.1 745.4 1875.0 750.0C1872.9 754.6 1867.1 759.6 1867.5 763.8C1867.9 767.9 1873.8 770.6 1877.5 775.0C1881.2 779.4 1887.1 786.2 1890.0 790.0C1892.9 793.8 1892.1 796.9 1895.0 797.5C1897.9 798.1 1902.5 795.0 1907.5 793.8C1912.5 792.5 1920.6 791.9 1925.0 790.0C1929.4 788.1 1932.5 783.8 1934.0 782.5" stroke="#9fd0ff" stroke-width="2.3" stroke-linejoin="round" stroke-linecap="round" opacity="0.95"/><path d="M1387.5 910.0C1389.6 910.2 1396.2 912.1 1400.0 911.2C1403.8 910.4 1406.7 908.5 1410.0 905.0C1413.3 901.5 1416.7 893.5 1420.0 890.0C1423.3 886.5 1425.8 884.8 1430.0 883.8C1434.2 882.7 1440.0 884.8 1445.0 883.8C1450.0 882.7 1455.8 879.8 1460.0 877.5C1464.2 875.2 1467.1 871.5 1470.0 870.0C1472.9 868.5 1475.4 867.5 1477.5 868.8C1479.6 870.0 1480.4 874.8 1482.5 877.5C1484.6 880.2 1486.7 883.3 1490.0 885.0C1493.3 886.7 1497.5 887.7 1502.5 887.5C1507.5 887.3 1513.8 885.6 1520.0 883.8C1526.2 881.9 1533.3 879.0 1540.0 876.2C1546.7 873.5 1555.0 870.0 1560.0 867.5C1565.0 865.0 1565.8 862.5 1570.0 861.2C1574.2 860.0 1579.6 861.0 1585.0 860.0C1590.4 859.0 1597.5 855.6 1602.5 855.0C1607.5 854.4 1610.8 855.0 1615.0 856.2C1619.2 857.5 1624.0 860.2 1627.5 862.5C1631.0 864.8 1634.8 868.8 1636.2 870.0" stroke="#9fd0ff" stroke-width="2.3" stroke-linejoin="round" stroke-linecap="round" opacity="0.95"/><path d="M1636.2 870.0C1636.2 871.2 1637.3 875.0 1636.2 877.5C1635.2 880.0 1631.5 882.1 1630.0 885.0C1628.5 887.9 1627.5 890.8 1627.5 895.0C1627.5 899.2 1630.0 905.4 1630.0 910.0C1630.0 914.6 1627.1 918.3 1627.5 922.5C1627.9 926.7 1629.6 931.7 1632.5 935.0C1635.4 938.3 1640.4 940.6 1645.0 942.5C1649.6 944.4 1655.0 944.6 1660.0 946.2C1665.0 947.9 1670.8 950.4 1675.0 952.5C1679.2 954.6 1680.8 957.5 1685.0 958.8C1689.2 960.0 1695.4 959.0 1700.0 960.0C1704.6 961.0 1709.2 964.6 1712.5 965.0C1715.8 965.4 1717.1 963.3 1720.0 962.5C1722.9 961.7 1726.7 959.2 1730.0 960.0C1733.3 960.8 1737.1 964.6 1740.0 967.5C1742.9 970.4 1744.6 975.2 1747.5 977.5C1750.4 979.8 1754.2 979.8 1757.5 981.2C1760.8 982.7 1765.2 986.5 1767.5 986.2C1769.8 986.0 1769.6 980.0 1771.2 980.0C1772.9 980.0 1775.4 986.2 1777.5 986.2C1779.6 986.2 1781.2 982.3 1783.8 980.0C1786.2 977.7 1789.8 975.2 1792.5 972.5C1795.2 969.8 1797.1 965.2 1800.0 963.8C1802.9 962.3 1807.5 962.3 1810.0 963.8C1812.5 965.2 1813.8 969.4 1815.0 972.5C1816.2 975.6 1815.8 979.6 1817.5 982.5C1819.2 985.4 1823.3 987.1 1825.0 990.0C1826.7 992.9 1826.9 995.4 1827.5 1000.0C1828.1 1004.6 1828.8 1011.7 1828.8 1017.5C1828.8 1023.3 1827.9 1028.8 1827.5 1035.0C1827.1 1041.2 1827.5 1049.2 1826.2 1055.0C1825.0 1060.8 1821.9 1065.0 1820.0 1070.0C1818.1 1075.0 1816.2 1080.4 1815.0 1085.0C1813.8 1089.6 1813.8 1094.2 1812.5 1097.5C1811.2 1100.8 1808.3 1103.8 1807.5 1105.0" stroke="#9fd0ff" stroke-width="2.3" stroke-linejoin="round" stroke-linecap="round" opacity="0.95"/><path d="M1636.2 870.0C1637.3 869.4 1639.8 867.1 1642.5 866.2C1645.2 865.4 1648.8 864.6 1652.5 865.0C1656.2 865.4 1662.5 869.6 1665.0 868.8C1667.5 867.9 1667.9 862.7 1667.5 860.0C1667.1 857.3 1662.1 855.0 1662.5 852.5C1662.9 850.0 1667.5 847.1 1670.0 845.0C1672.5 842.9 1676.7 842.5 1677.5 840.0C1678.3 837.5 1676.7 832.1 1675.0 830.0C1673.3 827.9 1669.6 830.0 1667.5 827.5C1665.4 825.0 1663.3 818.8 1662.5 815.0C1661.7 811.2 1663.3 807.5 1662.5 805.0C1661.7 802.5 1656.2 801.7 1657.5 800.0C1658.8 798.3 1664.6 796.2 1670.0 795.0C1675.4 793.8 1684.2 793.3 1690.0 792.5C1695.8 791.7 1700.8 791.5 1705.0 790.0C1709.2 788.5 1711.7 784.2 1715.0 783.8C1718.3 783.3 1721.2 785.2 1725.0 787.5C1728.8 789.8 1732.9 794.8 1737.5 797.5C1742.1 800.2 1749.6 801.7 1752.5 803.8C1755.4 805.8 1752.1 809.2 1755.0 810.0C1757.9 810.8 1764.6 807.7 1770.0 808.8C1775.4 809.8 1782.5 816.0 1787.5 816.2C1792.5 816.5 1797.1 812.7 1800.0 810.0C1802.9 807.3 1803.8 803.8 1805.0 800.0C1806.2 796.2 1805.8 789.8 1807.5 787.5C1809.2 785.2 1811.7 786.5 1815.0 786.2C1818.3 786.0 1822.1 785.4 1827.5 786.2C1832.9 787.1 1841.7 788.1 1847.5 791.2C1853.3 794.4 1858.3 801.9 1862.5 805.0C1866.7 808.1 1870.0 809.8 1872.5 810.0C1875.0 810.2 1875.4 805.4 1877.5 806.2C1879.6 807.1 1881.2 811.9 1885.0 815.0C1888.8 818.1 1895.0 820.8 1900.0 825.0C1905.0 829.2 1910.8 835.0 1915.0 840.0C1919.2 845.0 1922.1 850.4 1925.0 855.0C1927.9 859.6 1931.2 865.4 1932.5 867.5" stroke="#9fd0ff" stroke-width="2.3" stroke-linejoin="round" stroke-linecap="round" opacity="0.95"/><path d="M1932.5 867.5C1930.4 869.6 1923.8 875.8 1920.0 880.0C1916.2 884.2 1912.1 888.3 1910.0 892.5C1907.9 896.7 1910.0 902.5 1907.5 905.0C1905.0 907.5 1899.6 906.7 1895.0 907.5C1890.4 908.3 1882.9 907.9 1880.0 910.0C1877.1 912.1 1876.2 917.1 1877.5 920.0C1878.8 922.9 1884.2 925.0 1887.5 927.5C1890.8 930.0 1895.8 932.5 1897.5 935.0C1899.2 937.5 1898.3 939.6 1897.5 942.5C1896.7 945.4 1894.6 949.8 1892.5 952.5C1890.4 955.2 1888.3 957.5 1885.0 958.8C1881.7 960.0 1876.7 960.8 1872.5 960.0C1868.3 959.2 1864.6 955.8 1860.0 953.8C1855.4 951.7 1849.6 949.8 1845.0 947.5C1840.4 945.2 1835.8 942.9 1832.5 940.0C1829.2 937.1 1827.5 933.3 1825.0 930.0C1822.5 926.7 1820.4 922.1 1817.5 920.0C1814.6 917.9 1810.4 917.1 1807.5 917.5C1804.6 917.9 1801.7 919.6 1800.0 922.5C1798.3 925.4 1796.7 931.2 1797.5 935.0C1798.3 938.8 1804.6 941.2 1805.0 945.0C1805.4 948.8 1800.8 954.4 1800.0 957.5C1799.2 960.6 1800.0 962.7 1800.0 963.8" stroke="#9fd0ff" stroke-width="2.3" stroke-linejoin="round" stroke-linecap="round" opacity="0.95"/><path d="M1830.0 1087.5C1830.8 1085.4 1833.3 1077.5 1835.0 1075.0C1836.7 1072.5 1837.1 1070.8 1840.0 1072.5C1842.9 1074.2 1848.3 1080.4 1852.5 1085.0C1856.7 1089.6 1860.8 1094.6 1865.0 1100.0C1869.2 1105.4 1873.8 1110.8 1877.5 1117.5C1881.2 1124.2 1884.6 1134.2 1887.5 1140.0C1890.4 1145.8 1892.5 1150.0 1895.0 1152.5C1897.5 1155.0 1899.2 1155.8 1902.5 1155.0C1905.8 1154.2 1911.7 1151.7 1915.0 1147.5C1918.3 1143.3 1920.0 1136.2 1922.5 1130.0C1925.0 1123.8 1928.1 1114.2 1930.0 1110.0C1931.9 1105.8 1933.3 1105.8 1934.0 1105.0" stroke="#9fd0ff" stroke-width="2.3" stroke-linejoin="round" stroke-linecap="round" opacity="0.95"/><path d="M2239.5 488.8C2241.1 489.4 2245.8 491.7 2249.0 492.5C2252.2 493.3 2255.7 493.1 2259.0 493.8C2262.3 494.4 2266.1 494.8 2269.0 496.2C2271.9 497.7 2274.0 500.4 2276.5 502.5C2279.0 504.6 2280.7 507.3 2284.0 508.8C2287.3 510.2 2292.3 511.0 2296.5 511.2C2300.7 511.5 2304.8 510.7 2309.0 510.0C2313.2 509.3 2318.0 506.8 2321.5 507.0C2325.0 507.2 2328.4 508.7 2330.2 511.2C2332.1 513.8 2332.1 518.5 2332.8 522.5C2333.4 526.5 2334.4 531.2 2334.0 535.0C2333.6 538.8 2330.2 542.1 2330.2 545.0C2330.2 547.9 2334.6 550.0 2334.0 552.5C2333.4 555.0 2328.8 557.5 2326.5 560.0C2324.2 562.5 2322.3 564.8 2320.2 567.5C2318.2 570.2 2316.7 573.5 2314.0 576.2C2311.3 579.0 2306.9 581.0 2304.0 583.8C2301.1 586.5 2296.9 589.4 2296.5 592.5C2296.1 595.6 2299.4 599.6 2301.5 602.5C2303.6 605.4 2306.5 607.5 2309.0 610.0C2311.5 612.5 2316.5 615.0 2316.5 617.5C2316.5 620.0 2311.5 622.5 2309.0 625.0C2306.5 627.5 2304.0 631.7 2301.5 632.5C2299.0 633.3 2296.1 630.8 2294.0 630.0C2291.9 629.2 2289.8 627.9 2289.0 627.5" stroke="#9fd0ff" stroke-width="2.3" stroke-linejoin="round" stroke-linecap="round" opacity="0.95"/><path d="M2316.5 617.5C2318.2 617.9 2323.2 618.8 2326.5 620.0C2329.8 621.2 2333.2 622.5 2336.5 625.0C2339.8 627.5 2342.8 632.9 2346.5 635.0C2350.2 637.1 2355.2 637.9 2359.0 637.5C2362.8 637.1 2365.7 632.5 2369.0 632.5C2372.3 632.5 2375.7 635.8 2379.0 637.5C2382.3 639.2 2386.1 640.0 2389.0 642.5C2391.9 645.0 2394.4 649.4 2396.5 652.5C2398.6 655.6 2399.4 660.0 2401.5 661.2C2403.6 662.5 2406.5 659.0 2409.0 660.0C2411.5 661.0 2414.0 666.7 2416.5 667.5C2419.0 668.3 2421.5 664.2 2424.0 665.0C2426.5 665.8 2429.0 670.4 2431.5 672.5C2434.0 674.6 2436.1 677.1 2439.0 677.5C2441.9 677.9 2446.1 674.6 2449.0 675.0C2451.9 675.4 2454.0 679.6 2456.5 680.0C2459.0 680.4 2461.5 678.3 2464.0 677.5C2466.5 676.7 2468.6 673.8 2471.5 675.0C2474.4 676.2 2479.2 682.1 2481.5 685.0C2483.8 687.9 2484.6 691.2 2485.2 692.5" stroke="#9fd0ff" stroke-width="2.3" stroke-linejoin="round" stroke-linecap="round" opacity="0.95"/><path d="M2289.0 627.5C2289.8 629.2 2291.9 634.2 2294.0 637.5C2296.1 640.8 2299.4 644.2 2301.5 647.5C2303.6 650.8 2305.2 654.2 2306.5 657.5C2307.8 660.8 2306.9 665.4 2309.0 667.5C2311.1 669.6 2315.7 668.8 2319.0 670.0C2322.3 671.2 2326.1 672.9 2329.0 675.0C2331.9 677.1 2334.0 680.8 2336.5 682.5C2339.0 684.2 2343.6 683.3 2344.0 685.0C2344.4 686.7 2341.5 690.4 2339.0 692.5C2336.5 694.6 2332.3 696.0 2329.0 697.5C2325.7 699.0 2320.7 700.6 2319.0 701.2" stroke="#9fd0ff" stroke-width="2.3" stroke-linejoin="round" stroke-linecap="round" opacity="0.95"/><path d="M1934.0 775.0C1935.7 774.8 1940.7 773.5 1944.0 773.8C1947.3 774.0 1951.9 774.4 1954.0 776.2C1956.1 778.1 1957.8 782.3 1956.5 785.0C1955.2 787.7 1949.0 789.6 1946.5 792.5C1944.0 795.4 1941.9 799.2 1941.5 802.5C1941.1 805.8 1941.9 809.2 1944.0 812.5C1946.1 815.8 1950.2 820.0 1954.0 822.5C1957.8 825.0 1962.3 827.9 1966.5 827.5C1970.7 827.1 1975.7 820.4 1979.0 820.0C1982.3 819.6 1984.0 826.7 1986.5 825.0C1989.0 823.3 1991.9 815.0 1994.0 810.0C1996.1 805.0 1997.3 800.4 1999.0 795.0C2000.7 789.6 2002.3 778.3 2004.0 777.5C2005.7 776.7 2008.6 785.4 2009.0 790.0C2009.4 794.6 2007.3 801.7 2006.5 805.0C2005.7 808.3 2001.9 808.8 2004.0 810.0C2006.1 811.2 2014.4 811.7 2019.0 812.5C2023.6 813.3 2029.4 814.6 2031.5 815.0" stroke="#9fd0ff" stroke-width="2.3" stroke-linejoin="round" stroke-linecap="round" opacity="0.95"/><path d="M1966.5 832.5C1968.2 834.6 1974.0 840.4 1976.5 845.0C1979.0 849.6 1980.2 855.8 1981.5 860.0C1982.8 864.2 1981.9 867.1 1984.0 870.0C1986.1 872.9 1991.1 875.0 1994.0 877.5C1996.9 880.0 1999.0 884.6 2001.5 885.0C2004.0 885.4 2006.5 882.1 2009.0 880.0C2011.5 877.9 2014.6 875.4 2016.5 872.5C2018.4 869.6 2020.7 865.4 2020.2 862.5C2019.8 859.6 2016.1 857.1 2014.0 855.0C2011.9 852.9 2008.6 852.1 2007.8 850.0C2006.9 847.9 2007.5 844.4 2009.0 842.5C2010.5 840.6 2013.6 839.2 2016.5 838.8C2019.4 838.3 2024.8 839.8 2026.5 840.0" stroke="#9fd0ff" stroke-width="2.3" stroke-linejoin="round" stroke-linecap="round" opacity="0.95"/><path d="M2026.5 840.0C2026.3 837.9 2024.4 831.0 2025.2 827.5C2026.1 824.0 2028.8 818.8 2031.5 818.8C2034.2 818.8 2038.2 826.5 2041.5 827.5C2044.8 828.5 2048.6 826.7 2051.5 825.0C2054.4 823.3 2056.9 820.8 2059.0 817.5C2061.1 814.2 2061.5 809.2 2064.0 805.0C2066.5 800.8 2070.2 796.2 2074.0 792.5C2077.8 788.8 2082.3 785.0 2086.5 782.5C2090.7 780.0 2095.7 777.5 2099.0 777.5C2102.3 777.5 2105.7 779.6 2106.5 782.5C2107.3 785.4 2105.7 791.7 2104.0 795.0C2102.3 798.3 2098.6 799.6 2096.5 802.5C2094.4 805.4 2091.9 808.8 2091.5 812.5C2091.1 816.2 2094.2 820.4 2094.0 825.0C2093.8 829.6 2091.1 835.0 2090.2 840.0C2089.4 845.0 2088.4 850.0 2089.0 855.0C2089.6 860.0 2092.3 865.4 2094.0 870.0C2095.7 874.6 2098.6 877.9 2099.0 882.5C2099.4 887.1 2097.3 893.8 2096.5 897.5C2095.7 901.2 2094.4 903.8 2094.0 905.0" stroke="#9fd0ff" stroke-width="2.3" stroke-linejoin="round" stroke-linecap="round" opacity="0.95"/><path d="M2026.5 840.0C2028.6 841.2 2034.8 845.0 2039.0 847.5C2043.2 850.0 2048.6 852.1 2051.5 855.0C2054.4 857.9 2055.7 860.8 2056.5 865.0C2057.3 869.2 2057.8 875.8 2056.5 880.0C2055.2 884.2 2051.9 887.5 2049.0 890.0C2046.1 892.5 2041.9 893.3 2039.0 895.0C2036.1 896.7 2034.8 899.6 2031.5 900.0C2028.2 900.4 2022.8 897.9 2019.0 897.5C2015.2 897.1 2010.2 895.0 2009.0 897.5C2007.8 900.0 2010.7 907.5 2011.5 912.5C2012.3 917.5 2014.4 923.3 2014.0 927.5C2013.6 931.7 2011.9 935.0 2009.0 937.5C2006.1 940.0 1999.0 940.0 1996.5 942.5C1994.0 945.0 1994.4 950.8 1994.0 952.5" stroke="#9fd0ff" stroke-width="2.3" stroke-linejoin="round" stroke-linecap="round" opacity="0.95"/><path d="M2106.5 782.5C2107.8 780.8 2111.1 775.8 2114.0 772.5C2116.9 769.2 2120.7 765.0 2124.0 762.5C2127.3 760.0 2130.2 758.5 2134.0 757.5C2137.8 756.5 2142.8 756.7 2146.5 756.2C2150.2 755.8 2153.6 754.0 2156.5 755.0C2159.4 756.0 2162.1 759.2 2164.0 762.5C2165.9 765.8 2166.7 771.7 2167.8 775.0C2168.8 778.3 2170.9 779.6 2170.2 782.5C2169.6 785.4 2165.9 789.2 2164.0 792.5C2162.1 795.8 2159.4 798.8 2159.0 802.5C2158.6 806.2 2160.2 811.2 2161.5 815.0C2162.8 818.8 2165.2 820.8 2166.5 825.0C2167.8 829.2 2169.4 835.4 2169.0 840.0C2168.6 844.6 2164.4 848.8 2164.0 852.5C2163.6 856.2 2165.7 859.2 2166.5 862.5C2167.3 865.8 2169.4 869.2 2169.0 872.5C2168.6 875.8 2166.9 879.6 2164.0 882.5C2161.1 885.4 2156.5 887.9 2151.5 890.0C2146.5 892.1 2139.4 893.3 2134.0 895.0C2128.6 896.7 2124.0 898.1 2119.0 900.0C2114.0 901.9 2107.8 905.4 2104.0 906.2C2100.2 907.1 2097.8 905.2 2096.5 905.0" stroke="#9fd0ff" stroke-width="2.3" stroke-linejoin="round" stroke-linecap="round" opacity="0.95"/><path d="M2156.5 755.0C2156.1 752.9 2154.4 747.1 2154.0 742.5C2153.6 737.9 2153.2 731.7 2154.0 727.5C2154.8 723.3 2156.5 719.6 2159.0 717.5C2161.5 715.4 2166.5 714.2 2169.0 715.0C2171.5 715.8 2172.3 720.4 2174.0 722.5C2175.7 724.6 2176.5 727.5 2179.0 727.5C2181.5 727.5 2185.7 724.2 2189.0 722.5C2192.3 720.8 2195.7 719.6 2199.0 717.5C2202.3 715.4 2205.2 712.1 2209.0 710.0C2212.8 707.9 2217.3 705.4 2221.5 705.0C2225.7 704.6 2231.1 705.4 2234.0 707.5C2236.9 709.6 2237.3 714.2 2239.0 717.5C2240.7 720.8 2241.5 725.0 2244.0 727.5C2246.5 730.0 2251.1 731.7 2254.0 732.5C2256.9 733.3 2260.7 730.8 2261.5 732.5C2262.3 734.2 2259.0 739.6 2259.0 742.5C2259.0 745.4 2259.8 747.9 2261.5 750.0C2263.2 752.1 2266.1 752.9 2269.0 755.0C2271.9 757.1 2276.7 760.4 2279.0 762.5C2281.3 764.6 2282.1 766.7 2282.8 767.5" stroke="#9fd0ff" stroke-width="2.3" stroke-linejoin="round" stroke-linecap="round" opacity="0.95"/><path d="M2261.5 732.5C2261.1 730.4 2259.0 723.3 2259.0 720.0C2259.0 716.7 2259.8 714.0 2261.5 712.5C2263.2 711.0 2266.5 710.0 2269.0 711.2C2271.5 712.5 2274.0 719.4 2276.5 720.0C2279.0 720.6 2280.7 716.7 2284.0 715.0C2287.3 713.3 2292.3 711.7 2296.5 710.0C2300.7 708.3 2304.8 706.7 2309.0 705.0C2313.2 703.3 2319.4 700.8 2321.5 700.0" stroke="#9fd0ff" stroke-width="2.3" stroke-linejoin="round" stroke-linecap="round" opacity="0.95"/><path d="M2169.0 872.5C2170.2 870.8 2174.0 863.8 2176.5 862.5C2179.0 861.2 2181.5 863.8 2184.0 865.0C2186.5 866.2 2189.4 870.8 2191.5 870.0C2193.6 869.2 2195.2 863.3 2196.5 860.0C2197.8 856.7 2197.8 853.3 2199.0 850.0C2200.2 846.7 2201.5 843.3 2204.0 840.0C2206.5 836.7 2210.7 832.9 2214.0 830.0C2217.3 827.1 2220.7 824.0 2224.0 822.5C2227.3 821.0 2230.7 821.2 2234.0 821.2C2237.3 821.2 2241.1 823.5 2244.0 822.5C2246.9 821.5 2250.2 816.2 2251.5 815.0" stroke="#9fd0ff" stroke-width="2.3" stroke-linejoin="round" stroke-linecap="round" opacity="0.95"/><path d="M2199.0 850.0C2199.8 852.1 2202.3 859.2 2204.0 862.5C2205.7 865.8 2209.4 867.1 2209.0 870.0C2208.6 872.9 2204.0 877.1 2201.5 880.0C2199.0 882.9 2194.8 884.6 2194.0 887.5C2193.2 890.4 2194.4 895.4 2196.5 897.5C2198.6 899.6 2204.0 898.3 2206.5 900.0C2209.0 901.7 2209.0 906.2 2211.5 907.5C2214.0 908.8 2218.2 908.8 2221.5 907.5C2224.8 906.2 2228.6 901.7 2231.5 900.0C2234.4 898.3 2236.5 896.7 2239.0 897.5C2241.5 898.3 2243.2 903.3 2246.5 905.0C2249.8 906.7 2254.8 907.5 2259.0 907.5C2263.2 907.5 2267.3 906.2 2271.5 905.0C2275.7 903.8 2279.8 901.7 2284.0 900.0C2288.2 898.3 2294.4 895.8 2296.5 895.0" stroke="#9fd0ff" stroke-width="2.3" stroke-linejoin="round" stroke-linecap="round" opacity="0.95"/><path d="M2211.5 907.5C2212.3 909.2 2214.4 915.0 2216.5 917.5C2218.6 920.0 2221.1 922.9 2224.0 922.5C2226.9 922.1 2231.5 917.5 2234.0 915.0C2236.5 912.5 2236.9 907.5 2239.0 907.5C2241.1 907.5 2244.4 912.5 2246.5 915.0C2248.6 917.5 2248.6 921.2 2251.5 922.5C2254.4 923.8 2260.7 921.2 2264.0 922.5C2267.3 923.8 2269.8 927.1 2271.5 930.0C2273.2 932.9 2272.8 936.7 2274.0 940.0C2275.2 943.3 2276.9 946.7 2279.0 950.0C2281.1 953.3 2284.4 957.9 2286.5 960.0C2288.6 962.1 2291.5 960.4 2291.5 962.5C2291.5 964.6 2286.9 969.2 2286.5 972.5C2286.1 975.8 2287.3 979.6 2289.0 982.5C2290.7 985.4 2293.6 987.9 2296.5 990.0C2299.4 992.1 2303.2 992.5 2306.5 995.0C2309.8 997.5 2314.2 1001.7 2316.5 1005.0C2318.8 1008.3 2319.6 1013.3 2320.2 1015.0" stroke="#9fd0ff" stroke-width="2.3" stroke-linejoin="round" stroke-linecap="round" opacity="0.95"/><path d="M2216.5 917.5C2216.1 919.6 2215.2 926.2 2214.0 930.0C2212.8 933.8 2211.1 937.5 2209.0 940.0C2206.9 942.5 2201.5 942.9 2201.5 945.0C2201.5 947.1 2206.5 949.6 2209.0 952.5C2211.5 955.4 2214.0 959.6 2216.5 962.5C2219.0 965.4 2221.5 967.9 2224.0 970.0C2226.5 972.1 2231.1 972.5 2231.5 975.0C2231.9 977.5 2228.6 982.1 2226.5 985.0C2224.4 987.9 2219.0 990.0 2219.0 992.5C2219.0 995.0 2224.0 997.9 2226.5 1000.0C2229.0 1002.1 2232.3 1002.1 2234.0 1005.0C2235.7 1007.9 2235.0 1014.2 2236.5 1017.5C2238.0 1020.8 2241.7 1023.8 2242.8 1025.0" stroke="#9fd0ff" stroke-width="2.3" stroke-linejoin="round" stroke-linecap="round" opacity="0.95"/><path d="M2096.5 905.0C2097.3 907.1 2099.4 913.3 2101.5 917.5C2103.6 921.7 2106.9 926.2 2109.0 930.0C2111.1 933.8 2111.5 936.7 2114.0 940.0C2116.5 943.3 2120.7 946.7 2124.0 950.0C2127.3 953.3 2130.7 956.7 2134.0 960.0C2137.3 963.3 2139.8 968.3 2144.0 970.0C2148.2 971.7 2154.0 970.2 2159.0 970.0C2164.0 969.8 2170.2 967.1 2174.0 968.8C2177.8 970.4 2178.6 977.7 2181.5 980.0C2184.4 982.3 2188.6 980.8 2191.5 982.5C2194.4 984.2 2196.1 988.3 2199.0 990.0C2201.9 991.7 2205.7 992.1 2209.0 992.5C2212.3 992.9 2217.3 992.5 2219.0 992.5" stroke="#9fd0ff" stroke-width="2.3" stroke-linejoin="round" stroke-linecap="round" opacity="0.95"/><path d="M2114.0 940.0C2112.3 940.0 2107.3 939.6 2104.0 940.0C2100.7 940.4 2097.3 941.7 2094.0 942.5C2090.7 943.3 2084.8 942.5 2084.0 945.0C2083.2 947.5 2089.0 953.8 2089.0 957.5C2089.0 961.2 2085.2 964.2 2084.0 967.5C2082.8 970.8 2081.1 974.2 2081.5 977.5C2081.9 980.8 2084.0 984.6 2086.5 987.5C2089.0 990.4 2093.6 992.1 2096.5 995.0C2099.4 997.9 2103.2 1001.7 2104.0 1005.0C2104.8 1008.3 2104.0 1012.5 2101.5 1015.0C2099.0 1017.5 2093.2 1018.8 2089.0 1020.0C2084.8 1021.2 2080.2 1020.8 2076.5 1022.5C2072.8 1024.2 2068.6 1026.7 2066.5 1030.0C2064.4 1033.3 2063.6 1038.3 2064.0 1042.5C2064.4 1046.7 2067.3 1051.8 2069.0 1055.0C2070.7 1058.2 2073.2 1060.8 2074.0 1062.0" stroke="#9fd0ff" stroke-width="2.3" stroke-linejoin="round" stroke-linecap="round" opacity="0.95"/><path d="M1934.0 930.0C1936.1 929.6 1943.6 926.2 1946.5 927.5C1949.4 928.8 1950.2 933.8 1951.5 937.5C1952.8 941.2 1951.9 946.7 1954.0 950.0C1956.1 953.3 1959.8 955.8 1964.0 957.5C1968.2 959.2 1974.0 960.4 1979.0 960.0C1984.0 959.6 1989.0 955.8 1994.0 955.0C1999.0 954.2 2004.0 954.2 2009.0 955.0C2014.0 955.8 2019.0 957.9 2024.0 960.0C2029.0 962.1 2034.0 965.4 2039.0 967.5C2044.0 969.6 2048.6 971.2 2054.0 972.5C2059.4 973.8 2066.5 973.8 2071.5 975.0C2076.5 976.2 2081.9 979.2 2084.0 980.0" stroke="#9fd0ff" stroke-width="2.3" stroke-linejoin="round" stroke-linecap="round" opacity="0.95"/><path d="M2054.0 972.5C2053.6 974.6 2051.7 981.5 2051.5 985.0C2051.3 988.5 2053.2 991.2 2052.8 993.8C2052.3 996.2 2049.6 999.0 2049.0 1000.0" stroke="#9fd0ff" stroke-width="2.3" stroke-linejoin="round" stroke-linecap="round" opacity="0.95"/><path d="M1934.0 1095.0C1935.7 1093.3 1940.7 1088.3 1944.0 1085.0C1947.3 1081.7 1951.1 1076.2 1954.0 1075.0C1956.9 1073.8 1959.4 1074.6 1961.5 1077.5C1963.6 1080.4 1964.0 1088.8 1966.5 1092.5C1969.0 1096.2 1974.0 1097.1 1976.5 1100.0C1979.0 1102.9 1982.3 1107.5 1981.5 1110.0C1980.7 1112.5 1975.7 1114.2 1971.5 1115.0C1967.3 1115.8 1960.7 1113.8 1956.5 1115.0C1952.3 1116.2 1948.2 1119.6 1946.5 1122.5C1944.8 1125.4 1944.8 1129.2 1946.5 1132.5C1948.2 1135.8 1954.0 1138.8 1956.5 1142.5C1959.0 1146.2 1960.2 1149.6 1961.5 1155.0C1962.8 1160.4 1963.2 1168.3 1964.0 1175.0C1964.8 1181.7 1966.5 1190.0 1966.5 1195.0C1966.5 1200.0 1962.8 1201.7 1964.0 1205.0C1965.2 1208.3 1970.7 1211.7 1974.0 1215.0C1977.3 1218.3 1979.8 1223.3 1984.0 1225.0C1988.2 1226.7 1994.8 1223.8 1999.0 1225.0C2003.2 1226.2 2007.8 1229.6 2009.0 1232.5C2010.2 1235.4 2008.6 1240.0 2006.5 1242.5C2004.4 1245.0 1998.2 1246.7 1996.5 1247.5" stroke="#9fd0ff" stroke-width="2.3" stroke-linejoin="round" stroke-linecap="round" opacity="0.95"/><path d="M1966.5 1092.5C1969.4 1090.0 1979.4 1080.8 1984.0 1077.5C1988.6 1074.2 1992.8 1075.8 1994.0 1072.5C1995.2 1069.2 1993.2 1061.2 1991.5 1057.5C1989.8 1053.8 1984.8 1053.8 1984.0 1050.0C1983.2 1046.2 1984.4 1039.2 1986.5 1035.0C1988.6 1030.8 1991.5 1027.1 1996.5 1025.0C2001.5 1022.9 2012.8 1021.2 2016.5 1022.5C2020.2 1023.8 2016.9 1031.2 2019.0 1032.5C2021.1 1033.8 2026.5 1032.5 2029.0 1030.0C2031.5 1027.5 2031.5 1020.8 2034.0 1017.5C2036.5 1014.2 2041.5 1012.9 2044.0 1010.0C2046.5 1007.1 2048.2 1001.7 2049.0 1000.0" stroke="#9fd0ff" stroke-width="2.3" stroke-linejoin="round" stroke-linecap="round" opacity="0.95"/><path d="M1994.0 1072.5C1996.5 1072.5 2004.8 1073.3 2009.0 1072.5C2013.2 1071.7 2014.8 1068.8 2019.0 1067.5C2023.2 1066.2 2030.2 1066.2 2034.0 1065.0C2037.8 1063.8 2037.8 1060.4 2041.5 1060.0C2045.2 1059.6 2052.8 1060.0 2056.5 1062.5C2060.2 1065.0 2061.1 1071.2 2064.0 1075.0C2066.9 1078.8 2071.5 1082.9 2074.0 1085.0C2076.5 1087.1 2078.2 1089.6 2079.0 1087.5C2079.8 1085.4 2079.0 1077.5 2079.0 1072.5C2079.0 1067.5 2078.2 1061.7 2079.0 1057.5C2079.8 1053.3 2081.5 1049.6 2084.0 1047.5C2086.5 1045.4 2092.3 1045.4 2094.0 1045.0" stroke="#9fd0ff" stroke-width="2.3" stroke-linejoin="round" stroke-linecap="round" opacity="0.95"/><path d="M2094.0 1045.0C2095.7 1044.6 2100.7 1044.6 2104.0 1042.5C2107.3 1040.4 2109.8 1033.8 2114.0 1032.5C2118.2 1031.2 2124.0 1033.3 2129.0 1035.0C2134.0 1036.7 2139.0 1040.4 2144.0 1042.5C2149.0 1044.6 2154.8 1047.5 2159.0 1047.5C2163.2 1047.5 2164.8 1042.9 2169.0 1042.5C2173.2 1042.1 2180.7 1042.5 2184.0 1045.0C2187.3 1047.5 2186.5 1055.4 2189.0 1057.5C2191.5 1059.6 2194.8 1058.3 2199.0 1057.5C2203.2 1056.7 2209.4 1054.6 2214.0 1052.5C2218.6 1050.4 2222.8 1048.3 2226.5 1045.0C2230.2 1041.7 2233.6 1035.8 2236.5 1032.5C2239.4 1029.2 2240.7 1025.8 2244.0 1025.0C2247.3 1024.2 2252.8 1025.4 2256.5 1027.5C2260.2 1029.6 2263.2 1035.8 2266.5 1037.5C2269.8 1039.2 2273.6 1036.7 2276.5 1037.5C2279.4 1038.3 2281.1 1040.8 2284.0 1042.5C2286.9 1044.2 2290.2 1047.5 2294.0 1047.5C2297.8 1047.5 2304.0 1045.0 2306.5 1042.5C2309.0 1040.0 2307.3 1035.0 2309.0 1032.5C2310.7 1030.0 2314.4 1030.4 2316.5 1027.5C2318.6 1024.6 2319.4 1018.3 2321.5 1015.0C2323.6 1011.7 2326.1 1009.2 2329.0 1007.5C2331.9 1005.8 2334.8 1004.6 2339.0 1005.0C2343.2 1005.4 2349.8 1008.3 2354.0 1010.0C2358.2 1011.7 2362.3 1014.2 2364.0 1015.0" stroke="#9fd0ff" stroke-width="2.3" stroke-linejoin="round" stroke-linecap="round" opacity="0.95"/><path d="M2079.0 1087.5C2079.8 1089.6 2082.8 1096.2 2084.0 1100.0C2085.2 1103.8 2088.2 1107.1 2086.5 1110.0C2084.8 1112.9 2075.7 1115.4 2074.0 1117.5C2072.3 1119.6 2074.0 1121.7 2076.5 1122.5C2079.0 1123.3 2086.5 1120.4 2089.0 1122.5C2091.5 1124.6 2091.1 1130.8 2091.5 1135.0C2091.9 1139.2 2090.7 1144.6 2091.5 1147.5C2092.3 1150.4 2093.6 1152.1 2096.5 1152.5C2099.4 1152.9 2104.4 1151.2 2109.0 1150.0C2113.6 1148.8 2119.0 1145.8 2124.0 1145.0C2129.0 1144.2 2136.1 1142.5 2139.0 1145.0C2141.9 1147.5 2140.7 1156.7 2141.5 1160.0C2142.3 1163.3 2145.2 1162.1 2144.0 1165.0C2142.8 1167.9 2134.8 1173.3 2134.0 1177.5C2133.2 1181.7 2136.9 1186.7 2139.0 1190.0C2141.1 1193.3 2144.0 1195.8 2146.5 1197.5C2149.0 1199.2 2151.1 1200.8 2154.0 1200.0C2156.9 1199.2 2161.5 1195.0 2164.0 1192.5C2166.5 1190.0 2166.5 1185.4 2169.0 1185.0C2171.5 1184.6 2175.7 1190.8 2179.0 1190.0C2182.3 1189.2 2185.7 1180.8 2189.0 1180.0C2192.3 1179.2 2196.1 1185.0 2199.0 1185.0C2201.9 1185.0 2205.2 1180.8 2206.5 1180.0" stroke="#9fd0ff" stroke-width="2.3" stroke-linejoin="round" stroke-linecap="round" opacity="0.95"/><path d="M2096.5 1152.5C2094.4 1153.8 2088.6 1156.7 2084.0 1160.0C2079.4 1163.3 2074.0 1168.3 2069.0 1172.5C2064.0 1176.7 2058.2 1183.8 2054.0 1185.0C2049.8 1186.2 2047.3 1182.1 2044.0 1180.0C2040.7 1177.9 2037.8 1172.1 2034.0 1172.5C2030.2 1172.9 2025.7 1178.8 2021.5 1182.5C2017.3 1186.2 2013.2 1192.1 2009.0 1195.0C2004.8 1197.9 2000.7 1199.2 1996.5 1200.0C1992.3 1200.8 1988.6 1198.8 1984.0 1200.0C1979.4 1201.2 1971.5 1206.2 1969.0 1207.5" stroke="#9fd0ff" stroke-width="2.3" stroke-linejoin="round" stroke-linecap="round" opacity="0.95"/><path d="M2199.0 1057.5C2199.8 1060.4 2203.2 1069.6 2204.0 1075.0C2204.8 1080.4 2205.2 1085.4 2204.0 1090.0C2202.8 1094.6 2198.2 1098.3 2196.5 1102.5C2194.8 1106.7 2193.2 1110.4 2194.0 1115.0C2194.8 1119.6 2199.4 1125.4 2201.5 1130.0C2203.6 1134.6 2205.2 1137.5 2206.5 1142.5C2207.8 1147.5 2209.0 1153.8 2209.0 1160.0C2209.0 1166.2 2205.7 1176.7 2206.5 1180.0C2207.3 1183.3 2211.5 1178.3 2214.0 1180.0C2216.5 1181.7 2219.0 1187.1 2221.5 1190.0C2224.0 1192.9 2226.5 1197.1 2229.0 1197.5C2231.5 1197.9 2233.6 1192.9 2236.5 1192.5C2239.4 1192.1 2243.2 1194.2 2246.5 1195.0C2249.8 1195.8 2254.0 1197.9 2256.5 1197.5C2259.0 1197.1 2258.6 1192.9 2261.5 1192.5C2264.4 1192.1 2270.2 1193.3 2274.0 1195.0C2277.8 1196.7 2281.1 1199.6 2284.0 1202.5C2286.9 1205.4 2289.4 1208.8 2291.5 1212.5C2293.6 1216.2 2295.7 1221.2 2296.5 1225.0C2297.3 1228.8 2296.9 1231.2 2296.5 1235.0C2296.1 1238.8 2294.4 1245.4 2294.0 1247.5" stroke="#9fd0ff" stroke-width="2.3" stroke-linejoin="round" stroke-linecap="round" opacity="0.95"/><path d="M2256.5 1197.5C2256.9 1193.8 2257.8 1182.1 2259.0 1175.0C2260.2 1167.9 2262.3 1160.8 2264.0 1155.0C2265.7 1149.2 2267.8 1145.0 2269.0 1140.0C2270.2 1135.0 2270.2 1130.4 2271.5 1125.0C2272.8 1119.6 2274.4 1112.1 2276.5 1107.5C2278.6 1102.9 2281.1 1100.0 2284.0 1097.5C2286.9 1095.0 2290.2 1094.2 2294.0 1092.5C2297.8 1090.8 2302.3 1087.9 2306.5 1087.5C2310.7 1087.1 2316.1 1087.9 2319.0 1090.0C2321.9 1092.1 2322.3 1096.7 2324.0 1100.0C2325.7 1103.3 2326.5 1107.5 2329.0 1110.0C2331.5 1112.5 2335.7 1114.6 2339.0 1115.0C2342.3 1115.4 2346.1 1110.8 2349.0 1112.5C2351.9 1114.2 2355.2 1122.9 2356.5 1125.0" stroke="#9fd0ff" stroke-width="2.3" stroke-linejoin="round" stroke-linecap="round" opacity="0.95"/><path d="M2306.5 1087.5C2305.7 1085.4 2303.6 1079.2 2301.5 1075.0C2299.4 1070.8 2295.7 1066.2 2294.0 1062.5C2292.3 1058.8 2291.5 1055.0 2291.5 1052.5C2291.5 1050.0 2293.6 1048.3 2294.0 1047.5" stroke="#9fd0ff" stroke-width="2.3" stroke-linejoin="round" stroke-linecap="round" opacity="0.95"/><path d="M2164.0 1192.5C2163.6 1195.0 2161.9 1202.1 2161.5 1207.5C2161.1 1212.9 2162.3 1219.6 2161.5 1225.0C2160.7 1230.4 2158.2 1235.4 2156.5 1240.0C2154.8 1244.6 2152.3 1248.3 2151.5 1252.5C2150.7 1256.7 2152.3 1261.2 2151.5 1265.0C2150.7 1268.8 2149.0 1272.1 2146.5 1275.0C2144.0 1277.9 2139.8 1280.0 2136.5 1282.5C2133.2 1285.0 2129.4 1287.1 2126.5 1290.0C2123.6 1292.9 2121.5 1297.1 2119.0 1300.0C2116.5 1302.9 2113.4 1304.6 2111.5 1307.5C2109.6 1310.4 2108.4 1315.8 2107.8 1317.5" stroke="#9fd0ff" stroke-width="2.3" stroke-linejoin="round" stroke-linecap="round" opacity="0.95"/></g><use href="#ol" stroke="#f3f0ea" stroke-width="3.3" stroke-linejoin="round"/><path d="M2406.5 1180.5C2409.4 1180.8 2414.9 1183.4 2417.8 1186.2C2420.6 1189.1 2422.2 1193.1 2423.5 1197.5C2424.8 1201.9 2425.0 1205.8 2425.2 1212.5C2425.5 1219.2 2425.0 1229.2 2424.8 1237.5C2424.5 1245.8 2424.2 1255.0 2423.5 1262.5C2422.8 1270.0 2422.0 1277.2 2420.2 1282.5C2418.5 1287.8 2415.5 1293.7 2412.8 1294.5C2410.0 1295.3 2406.9 1290.8 2404.0 1287.5C2401.1 1284.2 2398.0 1280.0 2395.2 1275.0C2392.5 1270.0 2389.5 1263.8 2387.8 1257.5C2386.0 1251.2 2385.0 1243.8 2384.5 1237.5C2384.0 1231.2 2384.2 1225.4 2384.8 1220.0C2385.3 1214.6 2386.2 1209.6 2387.8 1205.0C2389.3 1200.4 2391.9 1195.9 2394.0 1192.5C2396.1 1189.1 2398.2 1186.5 2400.2 1184.5C2402.3 1182.5 2403.6 1180.2 2406.5 1180.5Z" transform="translate(0 37)" stroke="#0f4a78" stroke-width="2" opacity="0.55"/><path d="M2406.5 1180.5C2409.4 1180.8 2414.9 1183.4 2417.8 1186.2C2420.6 1189.1 2422.2 1193.1 2423.5 1197.5C2424.8 1201.9 2425.0 1205.8 2425.2 1212.5C2425.5 1219.2 2425.0 1229.2 2424.8 1237.5C2424.5 1245.8 2424.2 1255.0 2423.5 1262.5C2422.8 1270.0 2422.0 1277.2 2420.2 1282.5C2418.5 1287.8 2415.5 1293.7 2412.8 1294.5C2410.0 1295.3 2406.9 1290.8 2404.0 1287.5C2401.1 1284.2 2398.0 1280.0 2395.2 1275.0C2392.5 1270.0 2389.5 1263.8 2387.8 1257.5C2386.0 1251.2 2385.0 1243.8 2384.5 1237.5C2384.0 1231.2 2384.2 1225.4 2384.8 1220.0C2385.3 1214.6 2386.2 1209.6 2387.8 1205.0C2389.3 1200.4 2391.9 1195.9 2394.0 1192.5C2396.1 1189.1 2398.2 1186.5 2400.2 1184.5C2402.3 1182.5 2403.6 1180.2 2406.5 1180.5Z" stroke="#cfd6e6" stroke-width="1.8" fill="rgba(10,40,110,.45)"/><path d="M2144.5 1366.2C2146.6 1367.5 2149.1 1371.5 2149.5 1375.0C2149.9 1378.5 2148.7 1382.9 2147.0 1387.5C2145.3 1392.1 2141.6 1397.5 2139.5 1402.5C2137.4 1407.5 2137.0 1412.9 2134.5 1417.5C2132.0 1422.1 2127.8 1426.5 2124.5 1430.0C2121.2 1433.5 2118.2 1438.1 2114.5 1438.8C2110.8 1439.4 2105.8 1436.0 2102.0 1433.8C2098.2 1431.5 2094.5 1428.5 2092.0 1425.0C2089.5 1421.5 2087.6 1417.1 2087.0 1412.5C2086.4 1407.9 2086.8 1402.1 2088.2 1397.5C2089.7 1392.9 2092.2 1388.5 2095.8 1385.0C2099.3 1381.5 2104.7 1378.3 2109.5 1376.2C2114.3 1374.2 2119.9 1374.0 2124.5 1372.5C2129.1 1371.0 2133.7 1368.5 2137.0 1367.5C2140.3 1366.5 2142.4 1365.0 2144.5 1366.2Z" transform="translate(0 37)" stroke="#2a78e0" stroke-width="2" opacity="0.9"/><path d="M2087.0 1412.5L2083.2 1450.0" stroke="#2a78e0" stroke-width="1.8" opacity="0.85"/><path d="M2114.5 1438.8L2113.2 1477.5" stroke="#2a78e0" stroke-width="1.8" opacity="0.85"/><path d="M2134.5 1417.5L2129.5 1457.5" stroke="#2a78e0" stroke-width="1.8" opacity="0.85"/><path d="M2149.5 1375.0L2149.5 1412.5" stroke="#2a78e0" stroke-width="1.8" opacity="0.85"/><path d="M2144.5 1366.2C2146.6 1367.5 2149.1 1371.5 2149.5 1375.0C2149.9 1378.5 2148.7 1382.9 2147.0 1387.5C2145.3 1392.1 2141.6 1397.5 2139.5 1402.5C2137.4 1407.5 2137.0 1412.9 2134.5 1417.5C2132.0 1422.1 2127.8 1426.5 2124.5 1430.0C2121.2 1433.5 2118.2 1438.1 2114.5 1438.8C2110.8 1439.4 2105.8 1436.0 2102.0 1433.8C2098.2 1431.5 2094.5 1428.5 2092.0 1425.0C2089.5 1421.5 2087.6 1417.1 2087.0 1412.5C2086.4 1407.9 2086.8 1402.1 2088.2 1397.5C2089.7 1392.9 2092.2 1388.5 2095.8 1385.0C2099.3 1381.5 2104.7 1378.3 2109.5 1376.2C2114.3 1374.2 2119.9 1374.0 2124.5 1372.5C2129.1 1371.0 2133.7 1368.5 2137.0 1367.5C2140.3 1366.5 2142.4 1365.0 2144.5 1366.2Z" stroke="#eef2fb" stroke-width="2.2" fill="rgba(8,30,95,.35)"/><circle cx="1637.5" cy="830.75" r="10.5" fill="#49d2ff" opacity="0.5" filter="url(#gl3)"/><circle cx="1637.5" cy="830.75" r="7.6" fill="#7fe3ff"/><circle cx="1637.5" cy="830.75" r="3.9" fill="#f4fdff"/><circle cx="1737.5" cy="908.75" r="10.5" fill="#49d2ff" opacity="0.5" filter="url(#gl3)"/><circle cx="1737.5" cy="908.75" r="7.6" fill="#7fe3ff"/><circle cx="1737.5" cy="908.75" r="3.9" fill="#f4fdff"/><circle cx="1793.75" cy="918.75" r="10.5" fill="#49d2ff" opacity="0.5" filter="url(#gl3)"/><circle cx="1793.75" cy="918.75" r="7.6" fill="#7fe3ff"/><circle cx="1793.75" cy="918.75" r="3.9" fill="#f4fdff"/><circle cx="1850" cy="901.25" r="10.5" fill="#49d2ff" opacity="0.5" filter="url(#gl3)"/><circle cx="1850" cy="901.25" r="7.6" fill="#7fe3ff"/><circle cx="1850" cy="901.25" r="3.9" fill="#f4fdff"/><circle cx="2085.25" cy="900.75" r="10.5" fill="#49d2ff" opacity="0.5" filter="url(#gl3)"/><circle cx="2085.25" cy="900.75" r="7.6" fill="#7fe3ff"/><circle cx="2085.25" cy="900.75" r="3.9" fill="#f4fdff"/><circle cx="1691.75" cy="963" r="10.5" fill="#49d2ff" opacity="0.5" filter="url(#gl3)"/><circle cx="1691.75" cy="963" r="7.6" fill="#7fe3ff"/><circle cx="1691.75" cy="963" r="3.9" fill="#f4fdff"/><circle cx="1730" cy="955" r="10.5" fill="#49d2ff" opacity="0.5" filter="url(#gl3)"/><circle cx="1730" cy="955" r="7.6" fill="#7fe3ff"/><circle cx="1730" cy="955" r="3.9" fill="#f4fdff"/><circle cx="1773.75" cy="970.75" r="10.5" fill="#49d2ff" opacity="0.5" filter="url(#gl3)"/><circle cx="1773.75" cy="970.75" r="7.6" fill="#7fe3ff"/><circle cx="1773.75" cy="970.75" r="3.9" fill="#f4fdff"/><circle cx="1813.75" cy="946.25" r="10.5" fill="#49d2ff" opacity="0.5" filter="url(#gl3)"/><circle cx="1813.75" cy="946.25" r="7.6" fill="#7fe3ff"/><circle cx="1813.75" cy="946.25" r="3.9" fill="#f4fdff"/><circle cx="1850" cy="945.5" r="10.5" fill="#49d2ff" opacity="0.5" filter="url(#gl3)"/><circle cx="1850" cy="945.5" r="7.6" fill="#7fe3ff"/><circle cx="1850" cy="945.5" r="3.9" fill="#f4fdff"/><circle cx="1936" cy="951" r="10.5" fill="#49d2ff" opacity="0.5" filter="url(#gl3)"/><circle cx="1936" cy="951" r="7.6" fill="#7fe3ff"/><circle cx="1936" cy="951" r="3.9" fill="#f4fdff"/><circle cx="2118.25" cy="973.25" r="10.5" fill="#49d2ff" opacity="0.5" filter="url(#gl3)"/><circle cx="2118.25" cy="973.25" r="7.6" fill="#7fe3ff"/><circle cx="2118.25" cy="973.25" r="3.9" fill="#f4fdff"/><circle cx="1607.5" cy="988.75" r="10.5" fill="#49d2ff" opacity="0.5" filter="url(#gl3)"/><circle cx="1607.5" cy="988.75" r="7.6" fill="#7fe3ff"/><circle cx="1607.5" cy="988.75" r="3.9" fill="#f4fdff"/><circle cx="2011.5" cy="988.75" r="10.5" fill="#49d2ff" opacity="0.5" filter="url(#gl3)"/><circle cx="2011.5" cy="988.75" r="7.6" fill="#7fe3ff"/><circle cx="2011.5" cy="988.75" r="3.9" fill="#f4fdff"/><circle cx="1905.75" cy="1020.75" r="10.5" fill="#49d2ff" opacity="0.5" filter="url(#gl3)"/><circle cx="1905.75" cy="1020.75" r="7.6" fill="#7fe3ff"/><circle cx="1905.75" cy="1020.75" r="3.9" fill="#f4fdff"/><circle cx="1537.5" cy="1053" r="10.5" fill="#49d2ff" opacity="0.5" filter="url(#gl3)"/><circle cx="1537.5" cy="1053" r="7.6" fill="#7fe3ff"/><circle cx="1537.5" cy="1053" r="3.9" fill="#f4fdff"/><circle cx="1627.5" cy="1042.5" r="10.5" fill="#49d2ff" opacity="0.5" filter="url(#gl3)"/><circle cx="1627.5" cy="1042.5" r="7.6" fill="#7fe3ff"/><circle cx="1627.5" cy="1042.5" r="3.9" fill="#f4fdff"/><circle cx="1657.5" cy="1042.5" r="10.5" fill="#49d2ff" opacity="0.5" filter="url(#gl3)"/><circle cx="1657.5" cy="1042.5" r="7.6" fill="#7fe3ff"/><circle cx="1657.5" cy="1042.5" r="3.9" fill="#f4fdff"/><circle cx="1717.5" cy="1052.5" r="10.5" fill="#49d2ff" opacity="0.5" filter="url(#gl3)"/><circle cx="1717.5" cy="1052.5" r="7.6" fill="#7fe3ff"/><circle cx="1717.5" cy="1052.5" r="3.9" fill="#f4fdff"/><circle cx="1870" cy="1043" r="10.5" fill="#49d2ff" opacity="0.5" filter="url(#gl3)"/><circle cx="1870" cy="1043" r="7.6" fill="#7fe3ff"/><circle cx="1870" cy="1043" r="3.9" fill="#f4fdff"/><circle cx="1926.25" cy="1043" r="10.5" fill="#49d2ff" opacity="0.5" filter="url(#gl3)"/><circle cx="1926.25" cy="1043" r="7.6" fill="#7fe3ff"/><circle cx="1926.25" cy="1043" r="3.9" fill="#f4fdff"/><circle cx="2096" cy="1042.5" r="10.5" fill="#49d2ff" opacity="0.5" filter="url(#gl3)"/><circle cx="2096" cy="1042.5" r="7.6" fill="#7fe3ff"/><circle cx="2096" cy="1042.5" r="3.9" fill="#f4fdff"/><circle cx="1873.75" cy="1086.75" r="10.5" fill="#49d2ff" opacity="0.5" filter="url(#gl3)"/><circle cx="1873.75" cy="1086.75" r="7.6" fill="#7fe3ff"/><circle cx="1873.75" cy="1086.75" r="3.9" fill="#f4fdff"/><circle cx="2085.25" cy="1096.25" r="10.5" fill="#49d2ff" opacity="0.5" filter="url(#gl3)"/><circle cx="2085.25" cy="1096.25" r="7.6" fill="#7fe3ff"/><circle cx="2085.25" cy="1096.25" r="3.9" fill="#f4fdff"/><circle cx="2181.5" cy="1122.5" r="10.5" fill="#49d2ff" opacity="0.5" filter="url(#gl3)"/><circle cx="2181.5" cy="1122.5" r="7.6" fill="#7fe3ff"/><circle cx="2181.5" cy="1122.5" r="3.9" fill="#f4fdff"/><circle cx="2105.75" cy="1140.5" r="10.5" fill="#49d2ff" opacity="0.5" filter="url(#gl3)"/><circle cx="2105.75" cy="1140.5" r="7.6" fill="#7fe3ff"/><circle cx="2105.75" cy="1140.5" r="3.9" fill="#f4fdff"/><circle cx="1981.5" cy="1159" r="10.5" fill="#49d2ff" opacity="0.5" filter="url(#gl3)"/><circle cx="1981.5" cy="1159" r="7.6" fill="#7fe3ff"/><circle cx="1981.5" cy="1159" r="3.9" fill="#f4fdff"/><circle cx="1850" cy="1189" r="10.5" fill="#49d2ff" opacity="0.5" filter="url(#gl3)"/><circle cx="1850" cy="1189" r="7.6" fill="#7fe3ff"/><circle cx="1850" cy="1189" r="3.9" fill="#f4fdff"/><circle cx="1880" cy="1217" r="10.5" fill="#49d2ff" opacity="0.5" filter="url(#gl3)"/><circle cx="1880" cy="1217" r="7.6" fill="#7fe3ff"/><circle cx="1880" cy="1217" r="3.9" fill="#f4fdff"/></svg>
<div class="p" style="left:50px;top:182px;width:1142px;height:1068px;"></div>
<div class="p" style="left:48px;top:1270px;width:1142px;height:850px;"></div>
<div class="p" style="left:1212px;top:182px;width:336px;height:198px;"></div>
<div class="p" style="left:1567px;top:182px;width:337px;height:198px;"></div>
<div class="p" style="left:1924px;top:182px;width:336px;height:198px;"></div>
<div class="p" style="left:2280px;top:182px;width:348px;height:198px;"></div>
<div class="p map" style="left:1212px;top:400px;width:1416px;height:1104px;overflow:hidden;"></div>
<div class="p" style="left:1212px;top:1524px;width:1416px;height:596px;"></div>
<div class="p" style="left:2648px;top:182px;width:1143px;height:894px;"></div>
<div class="p" style="left:2648px;top:1096px;width:1142px;height:1024px;"></div>
<div class="tb-a" style="left:90px;top:230px"></div>
<div class="tb-m" style="left:110px;top:230px;width:360px"></div>
<div class="t" style="left:134px;top:262px;font-size:32px;color:#fff;font-weight:500;transform:translate(0,-50%);-webkit-text-stroke:0.3px #fff;">假货反馈实时信息</div>
<div class="row" style="top:330px"></div>
<div class="t" style="left:186px;top:364px;font-size:28px;color:#fff;font-weight:500;transform:translate(-50%,-50%);">昵称</div>
<div class="t" style="left:372px;top:364px;font-size:28px;color:#fff;font-weight:500;transform:translate(-50%,-50%);">商品名称</div>
<div class="t" style="left:544px;top:364px;font-size:28px;color:#fff;font-weight:500;transform:translate(-50%,-50%);">规格</div>
<div class="t" style="left:725px;top:364px;font-size:28px;color:#fff;font-weight:500;transform:translate(-50%,-50%);">位置</div>
<div class="t" style="left:987px;top:364px;font-size:28px;color:#fff;font-weight:500;transform:translate(-50%,-50%);">反馈时间</div>
<div class="t" style="left:186px;top:466px;font-size:28px;color:#fff;font-weight:400;transform:translate(-50%,-50%);">沉底的鲸</div>
<div class="t" style="left:372px;top:466px;font-size:28px;color:#fff;font-weight:400;transform:translate(-50%,-50%);">燕京啤酒</div>
<div class="t" style="left:544px;top:465px;font-size:28px;color:#fff;font-weight:400;transform:translate(-50%,-50%);"><span style="font-size:1.08em;letter-spacing:0px">500ml</span></div>
<div class="t" style="left:725px;top:466px;font-size:28px;color:#fff;font-weight:400;transform:translate(-50%,-50%);">山东<span style="margin:0 2px">·</span>青岛</div>
<div class="t" style="left:987px;top:465px;font-size:28px;color:#fff;font-weight:400;transform:translate(-50%,-50%);"><span style="font-size:1.08em;letter-spacing:0.6px">2024-05-02 10:00</span></div>
<div class="row" style="top:534px"></div>
<div class="t" style="left:186px;top:568px;font-size:28px;color:#fff;font-weight:400;transform:translate(-50%,-50%);">观海</div>
<div class="t" style="left:372px;top:568px;font-size:28px;color:#fff;font-weight:400;transform:translate(-50%,-50%);">尔滨啤酒</div>
<div class="t" style="left:544px;top:567px;font-size:28px;color:#fff;font-weight:400;transform:translate(-50%,-50%);"><span style="font-size:1.08em;letter-spacing:0px">330ml</span></div>
<div class="t" style="left:725px;top:568px;font-size:28px;color:#fff;font-weight:400;transform:translate(-50%,-50%);">黑龙江<span style="margin:0 2px">·</span>鸡西</div>
<div class="t" style="left:987px;top:567px;font-size:28px;color:#fff;font-weight:400;transform:translate(-50%,-50%);"><span style="font-size:1.08em;letter-spacing:0.6px">2024-02-01 09:00</span></div>
<div class="t" style="left:186px;top:669px;font-size:28px;color:#fff;font-weight:400;transform:translate(-50%,-50%);"><span style="font-size:1.08em;letter-spacing:0px">ai</span></div>
<div class="t" style="left:372px;top:670px;font-size:28px;color:#fff;font-weight:400;transform:translate(-50%,-50%);">燕京啤酒</div>
<div class="t" style="left:544px;top:669px;font-size:28px;color:#fff;font-weight:400;transform:translate(-50%,-50%);"><span style="font-size:1.08em;letter-spacing:0px">500ml</span></div>
<div class="t" style="left:725px;top:670px;font-size:28px;color:#fff;font-weight:400;transform:translate(-50%,-50%);">河北<span style="margin:0 2px">·</span>邯郸</div>
<div class="t" style="left:987px;top:669px;font-size:28px;color:#fff;font-weight:400;transform:translate(-50%,-50%);"><span style="font-size:1.08em;letter-spacing:0.6px">2024-05-02 10:00</span></div>
<div class="row" style="top:738px"></div>
<div class="t" style="left:186px;top:771px;font-size:28px;color:#fff;font-weight:400;transform:translate(-50%,-50%);"><span style="font-size:1.08em;letter-spacing:0px">likekeke</span></div>
<div class="t" style="left:372px;top:772px;font-size:28px;color:#fff;font-weight:400;transform:translate(-50%,-50%);">尔滨啤酒</div>
<div class="t" style="left:544px;top:771px;font-size:28px;color:#fff;font-weight:400;transform:translate(-50%,-50%);"><span style="font-size:1.08em;letter-spacing:0px">330ml</span></div>
<div class="t" style="left:725px;top:772px;font-size:28px;color:#fff;font-weight:400;transform:translate(-50%,-50%);">河南<span style="margin:0 2px">·</span>郑州</div>
<div class="t" style="left:987px;top:771px;font-size:28px;color:#fff;font-weight:400;transform:translate(-50%,-50%);"><span style="font-size:1.08em;letter-spacing:0.6px">2024-02-01 09:00</span></div>
<div class="t" style="left:186px;top:874px;font-size:28px;color:#fff;font-weight:400;transform:translate(-50%,-50%);">北方科诚</div>
<div class="t" style="left:372px;top:874px;font-size:28px;color:#fff;font-weight:400;transform:translate(-50%,-50%);">燕京啤酒</div>
<div class="t" style="left:544px;top:873px;font-size:28px;color:#fff;font-weight:400;transform:translate(-50%,-50%);"><span style="font-size:1.08em;letter-spacing:0px">500ml</span></div>
<div class="t" style="left:725px;top:874px;font-size:28px;color:#fff;font-weight:400;transform:translate(-50%,-50%);">山东<span style="margin:0 2px">·</span>青岛</div>
<div class="t" style="left:987px;top:873px;font-size:28px;color:#fff;font-weight:400;transform:translate(-50%,-50%);"><span style="font-size:1.08em;letter-spacing:0.6px">2024-05-02 10:00</span></div>
<div class="row" style="top:942px"></div>
<div class="t" style="left:186px;top:975px;font-size:28px;color:#fff;font-weight:400;transform:translate(-50%,-50%);"><span style="font-size:1.08em;letter-spacing:0px">abcd</span></div>
<div class="t" style="left:372px;top:976px;font-size:28px;color:#fff;font-weight:400;transform:translate(-50%,-50%);">尔滨啤酒</div>
<div class="t" style="left:544px;top:975px;font-size:28px;color:#fff;font-weight:400;transform:translate(-50%,-50%);"><span style="font-size:1.08em;letter-spacing:0px">330ml</span></div>
<div class="t" style="left:725px;top:976px;font-size:28px;color:#fff;font-weight:400;transform:translate(-50%,-50%);">江苏<span style="margin:0 2px">·</span>宿迁</div>
<div class="t" style="left:987px;top:975px;font-size:28px;color:#fff;font-weight:400;transform:translate(-50%,-50%);"><span style="font-size:1.08em;letter-spacing:0.6px">2024-02-01 09:00</span></div>
<div class="t" style="left:186px;top:1077px;font-size:28px;color:#fff;font-weight:400;transform:translate(-50%,-50%);"><span style="font-size:1.08em;letter-spacing:0px">e e e e e</span></div>
<div class="t" style="left:372px;top:1078px;font-size:28px;color:#fff;font-weight:400;transform:translate(-50%,-50%);">燕京啤酒</div>
<div class="t" style="left:544px;top:1077px;font-size:28px;color:#fff;font-weight:400;transform:translate(-50%,-50%);"><span style="font-size:1.08em;letter-spacing:0px">500ml</span></div>
<div class="t" style="left:725px;top:1078px;font-size:28px;color:#fff;font-weight:400;transform:translate(-50%,-50%);">山东<span style="margin:0 2px">·</span>青岛</div>
<div class="t" style="left:987px;top:1077px;font-size:28px;color:#fff;font-weight:400;transform:translate(-50%,-50%);"><span style="font-size:1.08em;letter-spacing:0.6px">2024-05-02 10:00</span></div>
<div class="row" style="top:1146px"></div>
<div class="t" style="left:186px;top:1179px;font-size:28px;color:#fff;font-weight:400;transform:translate(-50%,-50%);"><span style="font-size:1.08em;letter-spacing:0px">afsdfd</span></div>
<div class="t" style="left:372px;top:1180px;font-size:28px;color:#fff;font-weight:400;transform:translate(-50%,-50%);">尔滨啤酒</div>
<div class="t" style="left:544px;top:1179px;font-size:28px;color:#fff;font-weight:400;transform:translate(-50%,-50%);"><span style="font-size:1.08em;letter-spacing:0px">330ml</span></div>
<div class="t" style="left:725px;top:1180px;font-size:28px;color:#fff;font-weight:400;transform:translate(-50%,-50%);">黑龙江<span style="margin:0 2px">·</span>鸡西</div>
<div class="t" style="left:987px;top:1179px;font-size:28px;color:#fff;font-weight:400;transform:translate(-50%,-50%);"><span style="font-size:1.08em;letter-spacing:0.6px">2024-02-01 09:00</span></div>
<div class="tb-a" style="left:88px;top:1318px"></div>
<div class="tb-m" style="left:108px;top:1318px;width:360px"></div>
<div class="t" style="left:131px;top:1350px;font-size:32px;color:#fff;font-weight:500;transform:translate(0,-50%);-webkit-text-stroke:0.3px #fff;">假货反馈次数发展趋势</div>
<div class="r" style="left:878px;top:1340px;width:16px;height:16px;border-radius:4px;background:#45d6c6"></div>
<div class="t" style="left:906px;top:1350px;font-size:24px;color:#868da6;font-weight:400;transform:translate(0,-50%);">反馈次数</div>
<div class="r" style="left:1030px;top:1340px;width:16px;height:16px;border-radius:4px;background:#ff3333"></div>
<div class="t" style="left:1058px;top:1350px;font-size:24px;color:#868da6;font-weight:400;transform:translate(0,-50%);">环比数据</div>
<svg width="3840" height="2160" viewBox="0 0 3840 2160" fill="none"><path d="M139 1466.8H1092" stroke="#1c2552" stroke-width="2"/><path d="M139 1561.2H1092" stroke="#1c2552" stroke-width="2"/><path d="M139 1655H1092" stroke="#1c2552" stroke-width="2"/><path d="M139 1749H1092" stroke="#1c2552" stroke-width="2"/><path d="M139 1843H1092" stroke="#1c2552" stroke-width="2"/><path d="M139 1937H1092" stroke="#1c2552" stroke-width="2"/><path d="M139 2031H1092" stroke="#1c2552" stroke-width="2"/><rect x="162" y="1504" width="56" height="528" fill="#d64547"/><rect x="328" y="1677" width="56" height="355" fill="#d64547"/><rect x="496" y="1903" width="56" height="129" fill="#d64547"/><rect x="664" y="1866" width="56" height="166" fill="#d64547"/><rect x="832" y="1782" width="56" height="250" fill="#d64547"/><rect x="1000" y="1677" width="56" height="355" fill="#d64547"/><polyline points="190,1696 356,1905 524,1605 692.5,1514 860,1854 1027,1972" stroke="#4de8d8" stroke-width="3.6" stroke-linejoin="miter"/></svg>
<div class="t" style="left:109.5px;top:1467.3px;font-size:25px;color:#e8ebf5;font-weight:400;transform:translate(-50%,-50%);letter-spacing:0.6px;">500</div>
<div class="t" style="left:1131.5px;top:1467.3px;font-size:25px;color:#e8ebf5;font-weight:400;transform:translate(-50%,-50%);letter-spacing:0.6px;">500</div>
<div class="t" style="left:109.5px;top:1561.4px;font-size:25px;color:#e8ebf5;font-weight:400;transform:translate(-50%,-50%);letter-spacing:0.6px;">400</div>
<div class="t" style="left:1131.5px;top:1561.4px;font-size:25px;color:#e8ebf5;font-weight:400;transform:translate(-50%,-50%);letter-spacing:0.6px;">400</div>
<div class="t" style="left:109.5px;top:1653.4px;font-size:25px;color:#e8ebf5;font-weight:400;transform:translate(-50%,-50%);letter-spacing:0.6px;">300</div>
<div class="t" style="left:1131.5px;top:1653.4px;font-size:25px;color:#e8ebf5;font-weight:400;transform:translate(-50%,-50%);letter-spacing:0.6px;">300</div>
<div class="t" style="left:109.5px;top:1757.3px;font-size:25px;color:#e8ebf5;font-weight:400;transform:translate(-50%,-50%);letter-spacing:0.6px;">200</div>
<div class="t" style="left:1131.5px;top:1757.3px;font-size:25px;color:#e8ebf5;font-weight:400;transform:translate(-50%,-50%);letter-spacing:0.6px;">200</div>
<div class="t" style="left:107.5px;top:1849px;font-size:25px;color:#e8ebf5;font-weight:400;transform:translate(-50%,-50%);letter-spacing:0.6px;">100</div>
<div class="t" style="left:1129.5px;top:1849px;font-size:25px;color:#e8ebf5;font-weight:400;transform:translate(-50%,-50%);letter-spacing:0.6px;">100</div>
<div class="t" style="left:112.5px;top:1938px;font-size:25px;color:#e8ebf5;font-weight:400;transform:translate(-50%,-50%);letter-spacing:0.6px;">50</div>
<div class="t" style="left:1134.5px;top:1938px;font-size:25px;color:#e8ebf5;font-weight:400;transform:translate(-50%,-50%);letter-spacing:0.6px;">50</div>
<div class="t" style="left:117.5px;top:2025.5px;font-size:25px;color:#e8ebf5;font-weight:400;transform:translate(-50%,-50%);letter-spacing:0.6px;">0</div>
<div class="t" style="left:1139.5px;top:2025.5px;font-size:25px;color:#e8ebf5;font-weight:400;transform:translate(-50%,-50%);letter-spacing:0.6px;">0</div>
<div class="t" style="left:187.5px;top:2063.5px;font-size:24px;color:#e8ebf5;font-weight:400;transform:translate(-50%,-50%);">1月</div>
<div class="t" style="left:354px;top:2063.5px;font-size:24px;color:#e8ebf5;font-weight:400;transform:translate(-50%,-50%);">2月</div>
<div class="t" style="left:522px;top:2063.5px;font-size:24px;color:#e8ebf5;font-weight:400;transform:translate(-50%,-50%);">3月</div>
<div class="t" style="left:689.5px;top:2063.5px;font-size:24px;color:#e8ebf5;font-weight:400;transform:translate(-50%,-50%);">4月</div>
<div class="t" style="left:857px;top:2063.5px;font-size:24px;color:#e8ebf5;font-weight:400;transform:translate(-50%,-50%);">5月</div>
<div class="t" style="left:1026px;top:2063.5px;font-size:24px;color:#e8ebf5;font-weight:400;transform:translate(-50%,-50%);">6月</div>
<div class="t" style="left:1380px;top:241px;font-size:36px;color:#fff;font-weight:400;transform:translate(-50%,-50%);">假货反馈次数</div>
<div class="t" style="left:1379px;top:312.5px;font-size:60px;color:#ff3a3a;font-weight:400;transform:translate(-50%,-50%);transform:translate(-50%,-50%) scaleX(.85);letter-spacing:0px;-webkit-text-stroke:1.7px #ff3a3a;">136724</div>
<div class="t" style="left:1736px;top:246px;font-size:36px;color:#fff;font-weight:400;transform:translate(-50%,-50%);">假货反馈种类</div>
<div class="t" style="left:1736px;top:316.5px;font-size:60px;color:#3eeadb;font-weight:400;transform:translate(-50%,-50%);transform:translate(-50%,-50%) scaleX(.85);letter-spacing:0px;-webkit-text-stroke:1.7px #3eeadb;">6724</div>
<div class="t" style="left:2091px;top:246px;font-size:36px;color:#fff;font-weight:400;transform:translate(-50%,-50%);">假货反馈省份</div>
<div class="t" style="left:2088px;top:316.5px;font-size:60px;color:#ffe53b;font-weight:400;transform:translate(-50%,-50%);transform:translate(-50%,-50%) scaleX(.85);letter-spacing:0px;-webkit-text-stroke:1.7px #ffe53b;">1367</div>
<div class="t" style="left:2468px;top:246px;font-size:36px;color:#fff;font-weight:400;transform:translate(-50%,-50%);">假货反馈处理</div>
<div class="t" style="left:2461px;top:316.5px;font-size:60px;color:#ff9f3e;font-weight:400;transform:translate(-50%,-50%);transform:translate(-50%,-50%) scaleX(.85);letter-spacing:0px;-webkit-text-stroke:1.7px #ff9f3e;">8367</div>
<div class="t" style="left:1280px;top:1586px;font-size:28px;color:#3eeadb;font-weight:500;transform:translate(-50%,-50%);">省份</div>
<div class="t" style="left:1447.5px;top:1586px;font-size:28px;color:#3eeadb;font-weight:500;transform:translate(-50%,-50%);">城市</div>
<div class="t" style="left:1656px;top:1586px;font-size:28px;color:#3eeadb;font-weight:500;transform:translate(-50%,-50%);">店铺名称</div>
<div class="t" style="left:1892px;top:1586px;font-size:28px;color:#3eeadb;font-weight:500;transform:translate(-50%,-50%);">商品名称</div>
<div class="t" style="left:2099px;top:1586px;font-size:28px;color:#3eeadb;font-weight:500;transform:translate(-50%,-50%);">规格</div>
<div class="t" style="left:2305px;top:1586px;font-size:28px;color:#3eeadb;font-weight:500;transform:translate(-50%,-50%);">反馈次数</div>
<div class="t" style="left:2527px;top:1586px;font-size:28px;color:#3eeadb;font-weight:500;transform:translate(-50%,-50%);">处理情况</div>
<div class="t" style="left:1280px;top:1660px;font-size:28px;color:#e2e6f2;font-weight:400;transform:translate(-50%,-50%);">河北</div>
<div class="t" style="left:1447.5px;top:1660px;font-size:28px;color:#e2e6f2;font-weight:400;transform:translate(-50%,-50%);">邯郸</div>
<div class="t" style="left:1656px;top:1660px;font-size:28px;color:#e2e6f2;font-weight:400;transform:translate(-50%,-50%);">春雷便利店</div>
<div class="t" style="left:1892px;top:1660px;font-size:28px;color:#e2e6f2;font-weight:400;transform:translate(-50%,-50%);">二锅头</div>
<div class="t" style="left:2099px;top:1659px;font-size:28px;color:#e2e6f2;font-weight:400;transform:translate(-50%,-50%);"><span style="font-size:1.08em;letter-spacing:0px">330ml</span></div>
<div class="t" style="left:2305px;top:1660px;font-size:28px;color:#e2e6f2;font-weight:400;transform:translate(-50%,-50%);"><span style="font-size:1.08em;letter-spacing:0px">3</span></div>
<div class="t" style="left:2527px;top:1660px;font-size:28px;color:#e2e6f2;font-weight:400;transform:translate(-50%,-50%);">已处理</div>
<div class="t" style="left:1280px;top:1728px;font-size:28px;color:#e2e6f2;font-weight:400;transform:translate(-50%,-50%);">中国</div>
<div class="t" style="left:1447.5px;top:1728px;font-size:28px;color:#e2e6f2;font-weight:400;transform:translate(-50%,-50%);">北京</div>
<div class="t" style="left:1656px;top:1728px;font-size:28px;color:#e2e6f2;font-weight:400;transform:translate(-50%,-50%);">佳宁便利店</div>
<div class="t" style="left:1892px;top:1728px;font-size:28px;color:#e2e6f2;font-weight:400;transform:translate(-50%,-50%);">青岛啤酒</div>
<div class="t" style="left:2099px;top:1727px;font-size:28px;color:#e2e6f2;font-weight:400;transform:translate(-50%,-50%);"><span style="font-size:1.08em;letter-spacing:0px">500ml</span></div>
<div class="t" style="left:2305px;top:1728px;font-size:28px;color:#e2e6f2;font-weight:400;transform:translate(-50%,-50%);"><span style="font-size:1.08em;letter-spacing:0px">5</span></div>
<div class="t" style="left:2527px;top:1728px;font-size:28px;color:#e2e6f2;font-weight:400;transform:translate(-50%,-50%);">已处理</div>
<div class="t" style="left:1280px;top:1796px;font-size:28px;color:#e2e6f2;font-weight:400;transform:translate(-50%,-50%);">广东</div>
<div class="t" style="left:1447.5px;top:1796px;font-size:28px;color:#e2e6f2;font-weight:400;transform:translate(-50%,-50%);">深圳</div>
<div class="t" style="left:1656px;top:1796px;font-size:28px;color:#e2e6f2;font-weight:400;transform:translate(-50%,-50%);">王腾便利店</div>
<div class="t" style="left:1892px;top:1796px;font-size:28px;color:#e2e6f2;font-weight:400;transform:translate(-50%,-50%);">燕京啤酒</div>
<div class="t" style="left:2099px;top:1795px;font-size:28px;color:#e2e6f2;font-weight:400;transform:translate(-50%,-50%);"><span style="font-size:1.08em;letter-spacing:0px">330ml</span></div>
<div class="t" style="left:2305px;top:1796px;font-size:28px;color:#e2e6f2;font-weight:400;transform:translate(-50%,-50%);"><span style="font-size:1.08em;letter-spacing:0px">9</span></div>
<div class="t" style="left:2527px;top:1796px;font-size:28px;color:#e2e6f2;font-weight:400;transform:translate(-50%,-50%);">未处理</div>
<div class="t" style="left:1280px;top:1864px;font-size:28px;color:#e2e6f2;font-weight:400;transform:translate(-50%,-50%);">河南</div>
<div class="t" style="left:1447.5px;top:1864px;font-size:28px;color:#e2e6f2;font-weight:400;transform:translate(-50%,-50%);">郑州</div>
<div class="t" style="left:1656px;top:1863px;font-size:28px;color:#e2e6f2;font-weight:400;transform:translate(-50%,-50%);"><span style="font-size:1.08em;letter-spacing:0px">xx</span>便利店</div>
<div class="t" style="left:1892px;top:1864px;font-size:28px;color:#e2e6f2;font-weight:400;transform:translate(-50%,-50%);">春雷啤酒</div>
<div class="t" style="left:2099px;top:1863px;font-size:28px;color:#e2e6f2;font-weight:400;transform:translate(-50%,-50%);"><span style="font-size:1.08em;letter-spacing:0px">500ml</span></div>
<div class="t" style="left:2305px;top:1864px;font-size:28px;color:#e2e6f2;font-weight:400;transform:translate(-50%,-50%);"><span style="font-size:1.08em;letter-spacing:0px">10</span></div>
<div class="t" style="left:2527px;top:1864px;font-size:28px;color:#e2e6f2;font-weight:400;transform:translate(-50%,-50%);">已处理</div>
<div class="t" style="left:1280px;top:1932px;font-size:28px;color:#e2e6f2;font-weight:400;transform:translate(-50%,-50%);">江苏</div>
<div class="t" style="left:1447.5px;top:1932px;font-size:28px;color:#e2e6f2;font-weight:400;transform:translate(-50%,-50%);">苏州</div>
<div class="t" style="left:1656px;top:1932px;font-size:28px;color:#e2e6f2;font-weight:400;transform:translate(-50%,-50%);">庆明便利店</div>
<div class="t" style="left:1892px;top:1932px;font-size:28px;color:#e2e6f2;font-weight:400;transform:translate(-50%,-50%);">王腾啤酒</div>
<div class="t" style="left:2099px;top:1931px;font-size:28px;color:#e2e6f2;font-weight:400;transform:translate(-50%,-50%);"><span style="font-size:1.08em;letter-spacing:0px">330ml</span></div>
<div class="t" style="left:2305px;top:1932px;font-size:28px;color:#e2e6f2;font-weight:400;transform:translate(-50%,-50%);"><span style="font-size:1.08em;letter-spacing:0px">2</span></div>
<div class="t" style="left:2527px;top:1932px;font-size:28px;color:#e2e6f2;font-weight:400;transform:translate(-50%,-50%);">未处理</div>
<div class="t" style="left:1280px;top:2000px;font-size:28px;color:#e2e6f2;font-weight:400;transform:translate(-50%,-50%);">中国</div>
<div class="t" style="left:1447.5px;top:2000px;font-size:28px;color:#e2e6f2;font-weight:400;transform:translate(-50%,-50%);">北京</div>
<div class="t" style="left:1656px;top:2000px;font-size:28px;color:#e2e6f2;font-weight:400;transform:translate(-50%,-50%);">佳宁便利店</div>
<div class="t" style="left:1892px;top:2000px;font-size:28px;color:#e2e6f2;font-weight:400;transform:translate(-50%,-50%);">青岛啤酒</div>
<div class="t" style="left:2099px;top:1999px;font-size:28px;color:#e2e6f2;font-weight:400;transform:translate(-50%,-50%);"><span style="font-size:1.08em;letter-spacing:0px">500ml</span></div>
<div class="t" style="left:2305px;top:2000px;font-size:28px;color:#e2e6f2;font-weight:400;transform:translate(-50%,-50%);"><span style="font-size:1.08em;letter-spacing:0px">5</span></div>
<div class="t" style="left:2527px;top:2000px;font-size:28px;color:#e2e6f2;font-weight:400;transform:translate(-50%,-50%);">已处理</div>
<div class="t" style="left:1280px;top:2068px;font-size:28px;color:#e2e6f2;font-weight:400;transform:translate(-50%,-50%);">广东</div>
<div class="t" style="left:1447.5px;top:2068px;font-size:28px;color:#e2e6f2;font-weight:400;transform:translate(-50%,-50%);">深圳</div>
<div class="t" style="left:1656px;top:2068px;font-size:28px;color:#e2e6f2;font-weight:400;transform:translate(-50%,-50%);">王腾便利店</div>
<div class="t" style="left:1892px;top:2068px;font-size:28px;color:#e2e6f2;font-weight:400;transform:translate(-50%,-50%);">燕京啤酒</div>
<div class="t" style="left:2099px;top:2067px;font-size:28px;color:#e2e6f2;font-weight:400;transform:translate(-50%,-50%);"><span style="font-size:1.08em;letter-spacing:0px">330ml</span></div>
<div class="t" style="left:2305px;top:2068px;font-size:28px;color:#e2e6f2;font-weight:400;transform:translate(-50%,-50%);"><span style="font-size:1.08em;letter-spacing:0px">9</span></div>
<div class="t" style="left:2527px;top:2068px;font-size:28px;color:#e2e6f2;font-weight:400;transform:translate(-50%,-50%);">未处理</div>
<div class="tb-a" style="left:2688px;top:230px"></div>
<div class="tb-m" style="left:2708px;top:230px;width:540px"></div>
<div class="t" style="left:2732px;top:262px;font-size:32px;color:#fff;font-weight:500;transform:translate(0,-50%);-webkit-text-stroke:0.3px #fff;">假货反馈省份及处理信息（<span style="font-size:1.08em;letter-spacing:2.3px">Top5</span>）</div>
<svg width="3840" height="2160" viewBox="0 0 3840 2160" fill="none"><path d="M3199.8 476.0A208 208 0 0 1 3444.8 729.8L3397.3 718.0A159 159 0 0 0 3209.9 524.0Z" fill="#f7a23f"/><path d="M3444.8 729.8A208 208 0 0 1 3350.1 857.8L3324.9 815.8A159 159 0 0 0 3397.3 718.0Z" fill="#f0508c"/><path d="M3350.1 857.8A208 208 0 0 1 3092.6 823.2L3128.0 789.4A159 159 0 0 0 3324.9 815.8Z" fill="#9a3dff"/><path d="M3092.6 823.2A208 208 0 0 1 3199.8 476.0L3209.9 524.0A159 159 0 0 0 3128.0 789.4Z" fill="#35c3ff"/><polyline points="3387,528.5 3429.5,472 3643.5,472" stroke="#f7a23f" stroke-width="3"/><polyline points="2796,525 3010,525 3057,588" stroke="#35c3ff" stroke-width="3"/><polyline points="3415,800 3628,800" stroke="#f0508c" stroke-width="3"/><polyline points="3231.5,888 3281,955 3496,955" stroke="#9a3dff" stroke-width="3"/></svg>
<div class="t" style="left:3436.5px;top:433px;font-size:36px;color:#f7a23f;font-weight:400;transform:translate(0,-50%);">剑南村<span style="font-size:1.15em;letter-spacing:1.2px">25%</span></div>
<div class="t" style="left:2808.5px;top:487.5px;font-size:36px;color:#35c3ff;font-weight:400;transform:translate(0,-50%);">茅台酒<span style="font-size:1.15em;letter-spacing:1.2px">45%</span></div>
<div class="t" style="left:3453.5px;top:760px;font-size:36px;color:#f0508c;font-weight:400;transform:translate(0,-50%);">二锅头<span style="font-size:1.1em;letter-spacing:0px">10%</span></div>
<div class="t" style="left:3338.5px;top:914.5px;font-size:36px;color:#9a3dff;font-weight:400;transform:translate(0,-50%);">其他<span style="font-size:1.15em;letter-spacing:1.2px">20%</span></div>
<div class="tb-a" style="left:2688px;top:1144px"></div>
<div class="tb-m" style="left:2708px;top:1144px;width:540px"></div>
<div class="t" style="left:2731px;top:1176px;font-size:32px;color:#fff;font-weight:500;transform:translate(0,-50%);-webkit-text-stroke:0.3px #fff;">假货反馈省份及处理信息（<span style="font-size:1.08em;letter-spacing:2.3px">Top5</span>）</div>
<div class="r" style="left:3480px;top:1167px;width:16px;height:16px;border-radius:4px;background:#d64547"></div>
<div class="t" style="left:3508px;top:1177px;font-size:24px;color:#868da6;font-weight:400;transform:translate(0,-50%);">反馈次数</div>
<div class="r" style="left:3632px;top:1167px;width:16px;height:16px;border-radius:4px;background:#35c3ff"></div>
<div class="t" style="left:3660px;top:1177px;font-size:24px;color:#868da6;font-weight:400;transform:translate(0,-50%);">已处理</div>
<svg width="3840" height="2160" viewBox="0 0 3840 2160" fill="none"><defs><linearGradient id="bg1" x1="0" y1="0" x2="0" y2="1"><stop offset="0" stop-color="#35c5ff"/><stop offset="1" stop-color="#36a4e6"/></linearGradient></defs><path d="M2739 1302H3751" stroke="#1c2552" stroke-width="2"/><path d="M2739 1424H3751" stroke="#1c2552" stroke-width="2"/><path d="M2739 1546.5H3751" stroke="#1c2552" stroke-width="2"/><path d="M2739 1669H3751" stroke="#1c2552" stroke-width="2"/><path d="M2739 1791H3751" stroke="#1c2552" stroke-width="2"/><path d="M2739 1912.5H3751" stroke="#1c2552" stroke-width="2"/><path d="M2739 2035H3751" stroke="#1c2552" stroke-width="2"/><rect x="2774" y="1639" width="42" height="396" fill="#d64547"/><rect x="2820" y="1508" width="42" height="527" fill="url(#bg1)"/><rect x="2987" y="1832" width="42" height="203" fill="#d64547"/><rect x="3033" y="1678.5" width="42" height="356.5" fill="url(#bg1)"/><rect x="3200" y="2000.5" width="42" height="34.5" fill="#d64547"/><rect x="3246" y="1902" width="42" height="133" fill="url(#bg1)"/><rect x="3413" y="1754" width="42" height="281" fill="#d64547"/><rect x="3459" y="1882" width="42" height="153" fill="url(#bg1)"/><rect x="3626" y="1832" width="42" height="203" fill="#d64547"/><rect x="3672" y="1678.5" width="42" height="356.5" fill="url(#bg1)"/></svg>
<div class="t" style="left:2709.5px;top:1301.8px;font-size:24px;color:#e8ebf5;font-weight:400;transform:translate(-50%,-50%);letter-spacing:0.9px;">500</div>
<div class="t" style="left:2709.5px;top:1423.8px;font-size:24px;color:#e8ebf5;font-weight:400;transform:translate(-50%,-50%);letter-spacing:0.9px;">400</div>
<div class="t" style="left:2709.5px;top:1546.3px;font-size:24px;color:#e8ebf5;font-weight:400;transform:translate(-50%,-50%);letter-spacing:0.9px;">300</div>
<div class="t" style="left:2709.5px;top:1668.8px;font-size:24px;color:#e8ebf5;font-weight:400;transform:translate(-50%,-50%);letter-spacing:0.9px;">200</div>
<div class="t" style="left:2707.5px;top:1790.8px;font-size:24px;color:#e8ebf5;font-weight:400;transform:translate(-50%,-50%);letter-spacing:0.9px;">100</div>
<div class="t" style="left:2712.5px;top:1912.3px;font-size:24px;color:#e8ebf5;font-weight:400;transform:translate(-50%,-50%);letter-spacing:0.9px;">50</div>
<div class="t" style="left:2717.5px;top:2034.8px;font-size:24px;color:#e8ebf5;font-weight:400;transform:translate(-50%,-50%);letter-spacing:0.9px;">0</div>
<div class="t" style="left:2817px;top:2064px;font-size:24px;color:#e8ebf5;font-weight:400;transform:translate(-50%,-50%);">陕西</div>
<div class="t" style="left:3029px;top:2064px;font-size:24px;color:#e8ebf5;font-weight:400;transform:translate(-50%,-50%);">内蒙古</div>
<div class="t" style="left:3242px;top:2064px;font-size:24px;color:#e8ebf5;font-weight:400;transform:translate(-50%,-50%);">江苏</div>
<div class="t" style="left:3455px;top:2064px;font-size:24px;color:#e8ebf5;font-weight:400;transform:translate(-50%,-50%);">山东</div>
<div class="t" style="left:3668.5px;top:2064px;font-size:24px;color:#e8ebf5;font-weight:400;transform:translate(-50%,-50%);">河北</div>
</body></html>
